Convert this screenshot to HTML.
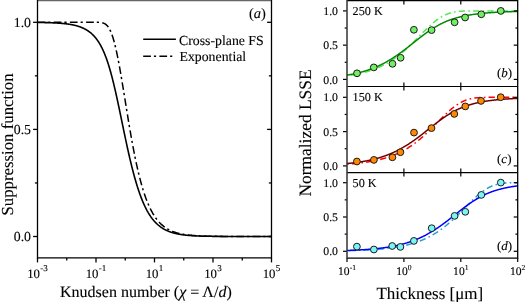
<!DOCTYPE html>
<html><head><meta charset="utf-8"><style>
html,body{margin:0;padding:0;background:#fff;width:525px;height:302px;overflow:hidden}
svg{display:block;will-change:transform}
text{font-family:"Liberation Serif",serif;fill:#000;stroke:#000;stroke-width:0.12px;text-rendering:geometricPrecision}
</style></head><body>
<svg width="525" height="302" viewBox="0 0 525 302">
<path d="M37.5,22.46 L37.79,22.46 L38.09,22.47 L38.38,22.47 L38.67,22.48 L38.96,22.48 L39.26,22.48 L39.55,22.49 L39.84,22.49 L40.14,22.5 L40.43,22.5 L40.72,22.51 L41.01,22.51 L41.31,22.52 L41.6,22.52 L41.89,22.53 L42.19,22.53 L42.48,22.54 L42.77,22.54 L43.06,22.55 L43.36,22.55 L43.65,22.56 L43.94,22.57 L44.24,22.57 L44.53,22.58 L44.82,22.59 L45.11,22.59 L45.41,22.6 L45.7,22.61 L45.99,22.61 L46.29,22.62 L46.58,22.63 L46.87,22.64 L47.16,22.64 L47.46,22.65 L47.75,22.66 L48.04,22.67 L48.34,22.68 L48.63,22.69 L48.92,22.69 L49.21,22.7 L49.51,22.71 L49.8,22.72 L50.09,22.73 L50.39,22.74 L50.68,22.75 L50.97,22.76 L51.26,22.77 L51.56,22.79 L51.85,22.8 L52.14,22.81 L52.44,22.82 L52.73,22.83 L53.02,22.85 L53.31,22.86 L53.61,22.87 L53.9,22.88 L54.19,22.9 L54.49,22.91 L54.78,22.93 L55.07,22.94 L55.36,22.96 L55.66,22.97 L55.95,22.99 L56.24,23 L56.54,23.02 L56.83,23.04 L57.12,23.05 L57.41,23.07 L57.71,23.09 L58,23.11 L58.29,23.13 L58.59,23.14 L58.88,23.16 L59.17,23.18 L59.46,23.21 L59.76,23.23 L60.05,23.25 L60.34,23.27 L60.64,23.29 L60.93,23.32 L61.22,23.34 L61.52,23.36 L61.81,23.39 L62.1,23.41 L62.39,23.44 L62.69,23.47 L62.98,23.49 L63.27,23.52 L63.57,23.55 L63.86,23.58 L64.15,23.61 L64.44,23.64 L64.74,23.67 L65.03,23.7 L65.32,23.74 L65.62,23.77 L65.91,23.8 L66.2,23.84 L66.49,23.87 L66.79,23.91 L67.08,23.95 L67.37,23.99 L67.67,24.03 L67.96,24.07 L68.25,24.11 L68.54,24.15 L68.84,24.19 L69.13,24.24 L69.42,24.28 L69.72,24.33 L70.01,24.38 L70.3,24.42 L70.59,24.47 L70.89,24.52 L71.18,24.58 L71.47,24.63 L71.77,24.68 L72.06,24.74 L72.35,24.8 L72.64,24.85 L72.94,24.91 L73.23,24.98 L73.52,25.04 L73.82,25.1 L74.11,25.17 L74.4,25.23 L74.69,25.3 L74.99,25.37 L75.28,25.44 L75.57,25.52 L75.87,25.59 L76.16,25.67 L76.45,25.75 L76.74,25.83 L77.04,25.91 L77.33,25.99 L77.62,26.08 L77.92,26.17 L78.21,26.26 L78.5,26.35 L78.79,26.45 L79.09,26.54 L79.38,26.64 L79.67,26.74 L79.97,26.85 L80.26,26.95 L80.55,27.06 L80.84,27.17 L81.14,27.29 L81.43,27.4 L81.72,27.52 L82.02,27.64 L82.31,27.77 L82.6,27.9 L82.89,28.03 L83.19,28.16 L83.48,28.3 L83.77,28.44 L84.07,28.58 L84.36,28.73 L84.65,28.87 L84.94,29.03 L85.24,29.19 L85.53,29.35 L85.82,29.51 L86.12,29.68 L86.41,29.85 L86.7,30.03 L86.99,30.21 L87.29,30.39 L87.58,30.58 L87.87,30.77 L88.17,30.97 L88.46,31.17 L88.75,31.38 L89.04,31.59 L89.34,31.81 L89.63,32.03 L89.92,32.26 L90.22,32.49 L90.51,32.73 L90.8,32.97 L91.09,33.22 L91.39,33.47 L91.68,33.73 L91.97,34 L92.27,34.27 L92.56,34.55 L92.85,34.84 L93.14,35.13 L93.44,35.43 L93.73,35.74 L94.02,36.05 L94.32,36.37 L94.61,36.7 L94.9,37.03 L95.19,37.38 L95.49,37.73 L95.78,38.09 L96.07,38.46 L96.37,38.83 L96.66,39.22 L96.95,39.61 L97.24,40.02 L97.54,40.43 L97.83,40.85 L98.12,41.29 L98.42,41.73 L98.71,42.18 L99,42.64 L99.29,43.12 L99.59,43.6 L99.88,44.1 L100.17,44.61 L100.47,45.13 L100.76,45.66 L101.05,46.2 L101.34,46.76 L101.64,47.32 L101.93,47.91 L102.22,48.5 L102.52,49.11 L102.81,49.73 L103.1,50.36 L103.39,51.01 L103.69,51.67 L103.98,52.35 L104.27,53.04 L104.57,53.75 L104.86,54.47 L105.15,55.21 L105.44,55.96 L105.74,56.73 L106.03,57.52 L106.32,58.32 L106.62,59.13 L106.91,59.97 L107.2,60.82 L107.49,61.68 L107.79,62.56 L108.08,63.46 L108.37,64.38 L108.67,65.31 L108.96,66.26 L109.25,67.22 L109.55,68.21 L109.84,69.21 L110.13,70.22 L110.42,71.25 L110.72,72.3 L111.01,73.36 L111.3,74.45 L111.6,75.54 L111.89,76.65 L112.18,77.78 L112.47,78.92 L112.77,80.08 L113.06,81.25 L113.35,82.44 L113.65,83.64 L113.94,84.86 L114.23,86.09 L114.52,87.33 L114.82,88.58 L115.11,89.85 L115.4,91.13 L115.7,92.42 L115.99,93.72 L116.28,95.04 L116.57,96.36 L116.87,97.69 L117.16,99.03 L117.45,100.38 L117.75,101.74 L118.04,103.11 L118.33,104.48 L118.62,105.86 L118.92,107.25 L119.21,108.64 L119.5,110.03 L119.8,111.44 L120.09,112.84 L120.38,114.25 L120.67,115.66 L120.97,117.07 L121.26,118.49 L121.55,119.91 L121.85,121.32 L122.14,122.74 L122.43,124.16 L122.72,125.57 L123.02,126.99 L123.31,128.4 L123.6,129.81 L123.9,131.22 L124.19,132.62 L124.48,134.02 L124.77,135.42 L125.07,136.81 L125.36,138.2 L125.65,139.57 L125.95,140.95 L126.24,142.32 L126.53,143.68 L126.82,145.03 L127.12,146.37 L127.41,147.71 L127.7,149.04 L128,150.36 L128.29,151.67 L128.58,152.97 L128.87,154.27 L129.17,155.55 L129.46,156.82 L129.75,158.08 L130.05,159.33 L130.34,160.57 L130.63,161.8 L130.92,163.02 L131.22,164.22 L131.51,165.41 L131.8,166.6 L132.1,167.77 L132.39,168.92 L132.68,170.07 L132.97,171.2 L133.27,172.32 L133.56,173.43 L133.85,174.52 L134.15,175.6 L134.44,176.67 L134.73,177.72 L135.02,178.77 L135.32,179.79 L135.61,180.81 L135.9,181.81 L136.2,182.8 L136.49,183.78 L136.78,184.74 L137.07,185.69 L137.37,186.63 L137.66,187.55 L137.95,188.46 L138.25,189.36 L138.54,190.24 L138.83,191.11 L139.12,191.97 L139.42,192.81 L139.71,193.64 L140,194.46 L140.3,195.27 L140.59,196.06 L140.88,196.84 L141.17,197.61 L141.47,198.37 L141.76,199.11 L142.05,199.85 L142.35,200.57 L142.64,201.27 L142.93,201.97 L143.22,202.65 L143.52,203.33 L143.81,203.99 L144.1,204.64 L144.4,205.28 L144.69,205.91 L144.98,206.52 L145.27,207.13 L145.57,207.72 L145.86,208.31 L146.15,208.88 L146.45,209.45 L146.74,210 L147.03,210.54 L147.32,211.08 L147.62,211.6 L147.91,212.11 L148.2,212.62 L148.5,213.11 L148.79,213.6 L149.08,214.07 L149.37,214.54 L149.67,215 L149.96,215.45 L150.25,215.89 L150.55,216.33 L150.84,216.75 L151.13,217.17 L151.42,217.57 L151.72,217.97 L152.01,218.37 L152.3,218.75 L152.6,219.13 L152.89,219.5 L153.18,219.86 L153.47,220.22 L153.77,220.56 L154.06,220.9 L154.35,221.24 L154.65,221.57 L154.94,221.89 L155.23,222.2 L155.53,222.51 L155.82,222.81 L156.11,223.11 L156.4,223.4 L156.7,223.68 L156.99,223.96 L157.28,224.23 L157.58,224.5 L157.87,224.76 L158.16,225.01 L158.45,225.26 L158.75,225.51 L159.04,225.75 L159.33,225.98 L159.63,226.21 L159.92,226.44 L160.21,226.66 L160.5,226.87 L160.8,227.09 L161.09,227.29 L161.38,227.49 L161.68,227.69 L161.97,227.89 L162.26,228.08 L162.55,228.26 L162.85,228.44 L163.14,228.62 L163.43,228.8 L163.73,228.97 L164.02,229.13 L164.31,229.3 L164.6,229.46 L164.9,229.61 L165.19,229.76 L165.48,229.91 L165.78,230.06 L166.07,230.2 L166.36,230.34 L166.65,230.48 L166.95,230.61 L167.24,230.74 L167.53,230.87 L167.83,231 L168.12,231.12 L168.41,231.24 L168.7,231.36 L169,231.47 L169.29,231.59 L169.58,231.7 L169.88,231.8 L170.17,231.91 L170.46,232.01 L170.75,232.11 L171.05,232.21 L171.34,232.31 L171.63,232.4 L171.93,232.49 L172.22,232.58 L172.51,232.67 L172.8,232.76 L173.1,232.84 L173.39,232.92 L173.68,233 L173.98,233.08 L174.27,233.16 L174.56,233.23 L174.85,233.31 L175.15,233.38 L175.44,233.45 L175.73,233.52 L176.03,233.58 L176.32,233.65 L176.61,233.71 L176.9,233.78 L177.2,233.84 L177.49,233.9 L177.78,233.96 L178.08,234.01 L178.37,234.07 L178.66,234.13 L178.95,234.18 L179.25,234.23 L179.54,234.28 L179.83,234.33 L180.13,234.38 L180.42,234.43 L180.71,234.48 L181,234.52 L181.3,234.57 L181.59,234.61 L181.88,234.65 L182.18,234.7 L182.47,234.74 L182.76,234.78 L183.05,234.81 L183.35,234.85 L183.64,234.89 L183.93,234.93 L184.23,234.96 L184.52,235 L184.81,235.03 L185.1,235.06 L185.4,235.1 L185.69,235.13 L185.98,235.16 L186.28,235.19 L186.57,235.22 L186.86,235.25 L187.15,235.28 L187.45,235.31 L187.74,235.33 L188.03,235.36 L188.33,235.38 L188.62,235.41 L188.91,235.43 L189.2,235.46 L189.5,235.48 L189.79,235.51 L190.08,235.53 L190.38,235.55 L190.67,235.57 L190.96,235.59 L191.25,235.61 L191.55,235.63 L191.84,235.65 L192.13,235.67 L192.43,235.69 L192.72,235.71 L193.01,235.73 L193.3,235.75 L193.6,235.76 L193.89,235.78 L194.18,235.8 L194.48,235.81 L194.77,235.83 L195.06,235.84 L195.35,235.86 L195.65,235.87 L195.94,235.89 L196.23,235.9 L196.53,235.91 L196.82,235.93 L197.11,235.94 L197.4,235.95 L197.7,235.97 L197.99,235.98 L198.28,235.99 L198.58,236 L198.87,236.01 L199.16,236.02 L199.45,236.03 L199.75,236.04 L200.04,236.06 L200.33,236.07 L200.63,236.08 L200.92,236.08 L201.21,236.09 L201.51,236.1 L201.8,236.11 L202.09,236.12 L202.38,236.13 L202.68,236.14 L202.97,236.15 L203.26,236.15 L203.56,236.16 L203.85,236.17 L204.14,236.18 L204.43,236.19 L204.73,236.19 L205.02,236.2 L205.31,236.21 L205.61,236.21 L205.9,236.22 L206.19,236.23 L206.48,236.23 L206.78,236.24 L207.07,236.24 L207.36,236.25 L207.66,236.26 L207.95,236.26 L208.24,236.27 L208.53,236.27 L208.83,236.28 L209.12,236.28 L209.41,236.29 L209.71,236.29 L210,236.3 L210.29,236.3 L210.58,236.31 L210.88,236.31 L211.17,236.31 L211.46,236.32 L211.76,236.32 L212.05,236.33 L212.34,236.33 L212.63,236.33 L212.93,236.34 L213.22,236.34 L213.51,236.35 L213.81,236.35 L214.1,236.35 L214.39,236.36 L214.68,236.36 L214.98,236.36 L215.27,236.37 L215.56,236.37 L215.86,236.37 L216.15,236.37 L216.44,236.38 L216.73,236.38 L217.03,236.38 L217.32,236.39 L217.61,236.39 L217.91,236.39 L218.2,236.39 L218.49,236.4 L218.78,236.4 L219.08,236.4 L219.37,236.4 L219.66,236.4 L219.96,236.41 L220.25,236.41 L220.54,236.41 L220.83,236.41 L221.13,236.42 L221.42,236.42 L221.71,236.42 L222.01,236.42 L222.3,236.42 L222.59,236.42 L222.88,236.43 L223.18,236.43 L223.47,236.43 L223.76,236.43 L224.06,236.43 L224.35,236.43 L224.64,236.44 L224.93,236.44 L225.23,236.44 L225.52,236.44 L225.81,236.44 L226.11,236.44 L226.4,236.44 L226.69,236.45 L226.98,236.45 L227.28,236.45 L227.57,236.45 L227.86,236.45 L228.16,236.45 L228.45,236.45 L228.74,236.45 L229.03,236.45 L229.33,236.46 L229.62,236.46 L229.91,236.46 L230.21,236.46 L230.5,236.46 L230.79,236.46 L231.08,236.46 L231.38,236.46 L231.67,236.46 L231.96,236.46 L232.26,236.46 L232.55,236.47 L232.84,236.47 L233.13,236.47 L233.43,236.47 L233.72,236.47 L234.01,236.47 L234.31,236.47 L234.6,236.47 L234.89,236.47 L235.18,236.47 L235.48,236.47 L235.77,236.47 L236.06,236.47 L236.36,236.47 L236.65,236.48 L236.94,236.48 L237.23,236.48 L237.53,236.48 L237.82,236.48 L238.11,236.48 L238.41,236.48 L238.7,236.48 L238.99,236.48 L239.28,236.48 L239.58,236.48 L239.87,236.48 L240.16,236.48 L240.46,236.48 L240.75,236.48 L241.04,236.48 L241.33,236.48 L241.63,236.48 L241.92,236.48 L242.21,236.48 L242.51,236.48 L242.8,236.48 L243.09,236.48 L243.38,236.49 L243.68,236.49 L243.97,236.49 L244.26,236.49 L244.56,236.49 L244.85,236.49 L245.14,236.49 L245.43,236.49 L245.73,236.49 L246.02,236.49 L246.31,236.49 L246.61,236.49 L246.9,236.49 L247.19,236.49 L247.48,236.49 L247.78,236.49 L248.07,236.49 L248.36,236.49 L248.66,236.49 L248.95,236.49 L249.24,236.49 L249.54,236.49 L249.83,236.49 L250.12,236.49 L250.41,236.49 L250.71,236.49 L251,236.49 L251.29,236.49 L251.59,236.49 L251.88,236.49 L252.17,236.49 L252.46,236.49 L252.76,236.49 L253.05,236.49 L253.34,236.49 L253.64,236.49 L253.93,236.49 L254.22,236.49 L254.51,236.49 L254.81,236.49 L255.1,236.49 L255.39,236.49 L255.69,236.49 L255.98,236.49 L256.27,236.49 L256.56,236.49 L256.86,236.49 L257.15,236.5 L257.44,236.5 L257.74,236.5 L258.03,236.5 L258.32,236.5 L258.61,236.5 L258.91,236.5 L259.2,236.5 L259.49,236.5 L259.79,236.5 L260.08,236.5 L260.37,236.5 L260.66,236.5 L260.96,236.5 L261.25,236.5 L261.54,236.5 L261.84,236.5 L262.13,236.5 L262.42,236.5 L262.71,236.5 L263.01,236.5 L263.3,236.5 L263.59,236.5 L263.89,236.5 L264.18,236.5 L264.47,236.5 L264.76,236.5 L265.06,236.5 L265.35,236.5 L265.64,236.5 L265.94,236.5 L266.23,236.5 L266.52,236.5 L266.81,236.5 L267.11,236.5 L267.4,236.5 L267.69,236.5 L267.99,236.5 L268.28,236.5 L268.57,236.5 L268.86,236.5 L269.16,236.5 L269.45,236.5 L269.74,236.5 L270.04,236.5 L270.33,236.5 L270.62,236.5 L270.91,236.5 L271.21,236.5 L271.5,236.5" fill="none" stroke="#000" stroke-width="1.6"/>
<path d="M37.5,22.3 L37.79,22.3 L38.09,22.3 L38.38,22.3 L38.67,22.3 L38.96,22.3 L39.26,22.3 L39.55,22.3 L39.84,22.3 L40.14,22.3 L40.43,22.3 L40.72,22.3 L41.01,22.3 L41.31,22.3 L41.6,22.3 L41.89,22.3 L42.19,22.3 L42.48,22.3 L42.77,22.3 L43.06,22.3 L43.36,22.3 L43.65,22.3 L43.94,22.3 L44.24,22.3 L44.53,22.3 L44.82,22.3 L45.11,22.3 L45.41,22.3 L45.7,22.3 L45.99,22.3 L46.29,22.3 L46.58,22.3 L46.87,22.3 L47.16,22.3 L47.46,22.3 L47.75,22.3 L48.04,22.3 L48.34,22.3 L48.63,22.3 L48.92,22.3 L49.21,22.3 L49.51,22.3 L49.8,22.3 L50.09,22.3 L50.39,22.3 L50.68,22.3 L50.97,22.3 L51.26,22.3 L51.56,22.3 L51.85,22.3 L52.14,22.3 L52.44,22.3 L52.73,22.3 L53.02,22.3 L53.31,22.3 L53.61,22.3 L53.9,22.3 L54.19,22.3 L54.49,22.3 L54.78,22.3 L55.07,22.3 L55.36,22.3 L55.66,22.3 L55.95,22.3 L56.24,22.3 L56.54,22.3 L56.83,22.3 L57.12,22.3 L57.41,22.3 L57.71,22.3 L58,22.3 L58.29,22.3 L58.59,22.3 L58.88,22.3 L59.17,22.3 L59.46,22.3 L59.76,22.3 L60.05,22.3 L60.34,22.3 L60.64,22.3 L60.93,22.3 L61.22,22.3 L61.52,22.3 L61.81,22.3 L62.1,22.3 L62.39,22.3 L62.69,22.3 L62.98,22.3 L63.27,22.3 L63.57,22.3 L63.86,22.3 L64.15,22.3 L64.44,22.3 L64.74,22.3 L65.03,22.3 L65.32,22.3 L65.62,22.3 L65.91,22.3 L66.2,22.3 L66.49,22.3 L66.79,22.3 L67.08,22.3 L67.37,22.3 L67.67,22.3 L67.96,22.3 L68.25,22.3 L68.54,22.3 L68.84,22.3 L69.13,22.3 L69.42,22.3 L69.72,22.3 L70.01,22.3 L70.3,22.3 L70.59,22.3 L70.89,22.3 L71.18,22.3 L71.47,22.3 L71.77,22.3 L72.06,22.3 L72.35,22.3 L72.64,22.3 L72.94,22.3 L73.23,22.3 L73.52,22.3 L73.82,22.3 L74.11,22.3 L74.4,22.3 L74.69,22.3 L74.99,22.3 L75.28,22.3 L75.57,22.3 L75.87,22.3 L76.16,22.3 L76.45,22.3 L76.74,22.3 L77.04,22.3 L77.33,22.3 L77.62,22.3 L77.92,22.3 L78.21,22.3 L78.5,22.3 L78.79,22.3 L79.09,22.3 L79.38,22.3 L79.67,22.3 L79.97,22.3 L80.26,22.3 L80.55,22.3 L80.84,22.3 L81.14,22.3 L81.43,22.3 L81.72,22.3 L82.02,22.3 L82.31,22.3 L82.6,22.3 L82.89,22.3 L83.19,22.3 L83.48,22.3 L83.77,22.3 L84.07,22.3 L84.36,22.3 L84.65,22.3 L84.94,22.3 L85.24,22.3 L85.53,22.3 L85.82,22.3 L86.12,22.3 L86.41,22.3 L86.7,22.3 L86.99,22.3 L87.29,22.3 L87.58,22.3 L87.87,22.3 L88.17,22.3 L88.46,22.3 L88.75,22.3 L89.04,22.3 L89.34,22.3 L89.63,22.3 L89.92,22.3 L90.22,22.3 L90.51,22.3 L90.8,22.3 L91.09,22.3 L91.39,22.3 L91.68,22.3 L91.97,22.3 L92.27,22.3 L92.56,22.3 L92.85,22.3 L93.14,22.3 L93.44,22.3 L93.73,22.3 L94.02,22.3 L94.32,22.3 L94.61,22.3 L94.9,22.3 L95.19,22.31 L95.49,22.31 L95.78,22.31 L96.07,22.31 L96.37,22.31 L96.66,22.32 L96.95,22.32 L97.24,22.32 L97.54,22.33 L97.83,22.34 L98.12,22.35 L98.42,22.35 L98.71,22.37 L99,22.38 L99.29,22.4 L99.59,22.41 L99.88,22.44 L100.17,22.46 L100.47,22.49 L100.76,22.52 L101.05,22.56 L101.34,22.6 L101.64,22.65 L101.93,22.71 L102.22,22.77 L102.52,22.84 L102.81,22.92 L103.1,23 L103.39,23.1 L103.69,23.21 L103.98,23.33 L104.27,23.47 L104.57,23.61 L104.86,23.77 L105.15,23.95 L105.44,24.15 L105.74,24.36 L106.03,24.59 L106.32,24.84 L106.62,25.1 L106.91,25.4 L107.2,25.71 L107.49,26.05 L107.79,26.41 L108.08,26.8 L108.37,27.21 L108.67,27.65 L108.96,28.12 L109.25,28.62 L109.55,29.15 L109.84,29.71 L110.13,30.3 L110.42,30.92 L110.72,31.58 L111.01,32.26 L111.3,32.98 L111.6,33.74 L111.89,34.53 L112.18,35.35 L112.47,36.21 L112.77,37.11 L113.06,38.04 L113.35,39 L113.65,40 L113.94,41.04 L114.23,42.11 L114.52,43.21 L114.82,44.35 L115.11,45.52 L115.4,46.73 L115.7,47.97 L115.99,49.24 L116.28,50.55 L116.57,51.88 L116.87,53.25 L117.16,54.64 L117.45,56.06 L117.75,57.52 L118.04,59 L118.33,60.5 L118.62,62.03 L118.92,63.59 L119.21,65.17 L119.5,66.77 L119.8,68.39 L120.09,70.03 L120.38,71.69 L120.67,73.37 L120.97,75.07 L121.26,76.78 L121.55,78.51 L121.85,80.25 L122.14,82 L122.43,83.76 L122.72,85.54 L123.02,87.32 L123.31,89.11 L123.6,90.91 L123.9,92.71 L124.19,94.52 L124.48,96.33 L124.77,98.15 L125.07,99.96 L125.36,101.78 L125.65,103.6 L125.95,105.41 L126.24,107.23 L126.53,109.03 L126.82,110.84 L127.12,112.64 L127.41,114.44 L127.7,116.22 L128,118.01 L128.29,119.78 L128.58,121.54 L128.87,123.3 L129.17,125.05 L129.46,126.78 L129.75,128.5 L130.05,130.22 L130.34,131.92 L130.63,133.6 L130.92,135.27 L131.22,136.93 L131.51,138.58 L131.8,140.21 L132.1,141.82 L132.39,143.42 L132.68,145.01 L132.97,146.58 L133.27,148.13 L133.56,149.66 L133.85,151.18 L134.15,152.68 L134.44,154.17 L134.73,155.63 L135.02,157.08 L135.32,158.51 L135.61,159.92 L135.9,161.32 L136.2,162.69 L136.49,164.05 L136.78,165.39 L137.07,166.71 L137.37,168.02 L137.66,169.3 L137.95,170.57 L138.25,171.82 L138.54,173.05 L138.83,174.26 L139.12,175.45 L139.42,176.63 L139.71,177.79 L140,178.93 L140.3,180.05 L140.59,181.15 L140.88,182.24 L141.17,183.3 L141.47,184.36 L141.76,185.39 L142.05,186.41 L142.35,187.41 L142.64,188.39 L142.93,189.35 L143.22,190.3 L143.52,191.24 L143.81,192.15 L144.1,193.05 L144.4,193.94 L144.69,194.81 L144.98,195.66 L145.27,196.5 L145.57,197.32 L145.86,198.13 L146.15,198.92 L146.45,199.7 L146.74,200.46 L147.03,201.21 L147.32,201.95 L147.62,202.67 L147.91,203.38 L148.2,204.07 L148.5,204.75 L148.79,205.42 L149.08,206.08 L149.37,206.72 L149.67,207.35 L149.96,207.97 L150.25,208.57 L150.55,209.17 L150.84,209.75 L151.13,210.32 L151.42,210.88 L151.72,211.43 L152.01,211.97 L152.3,212.49 L152.6,213.01 L152.89,213.51 L153.18,214.01 L153.47,214.49 L153.77,214.97 L154.06,215.44 L154.35,215.89 L154.65,216.34 L154.94,216.78 L155.23,217.2 L155.53,217.62 L155.82,218.04 L156.11,218.44 L156.4,218.83 L156.7,219.22 L156.99,219.6 L157.28,219.97 L157.58,220.33 L157.87,220.68 L158.16,221.03 L158.45,221.37 L158.75,221.7 L159.04,222.03 L159.33,222.35 L159.63,222.66 L159.92,222.96 L160.21,223.26 L160.5,223.56 L160.8,223.84 L161.09,224.12 L161.38,224.4 L161.68,224.66 L161.97,224.93 L162.26,225.18 L162.55,225.43 L162.85,225.68 L163.14,225.92 L163.43,226.15 L163.73,226.39 L164.02,226.61 L164.31,226.83 L164.6,227.05 L164.9,227.26 L165.19,227.46 L165.48,227.66 L165.78,227.86 L166.07,228.05 L166.36,228.24 L166.65,228.43 L166.95,228.61 L167.24,228.79 L167.53,228.96 L167.83,229.13 L168.12,229.29 L168.41,229.45 L168.7,229.61 L169,229.77 L169.29,229.92 L169.58,230.06 L169.88,230.21 L170.17,230.35 L170.46,230.49 L170.75,230.62 L171.05,230.76 L171.34,230.89 L171.63,231.01 L171.93,231.13 L172.22,231.26 L172.51,231.37 L172.8,231.49 L173.1,231.6 L173.39,231.71 L173.68,231.82 L173.98,231.93 L174.27,232.03 L174.56,232.13 L174.85,232.23 L175.15,232.32 L175.44,232.42 L175.73,232.51 L176.03,232.6 L176.32,232.69 L176.61,232.78 L176.9,232.86 L177.2,232.94 L177.49,233.02 L177.78,233.1 L178.08,233.18 L178.37,233.25 L178.66,233.33 L178.95,233.4 L179.25,233.47 L179.54,233.54 L179.83,233.6 L180.13,233.67 L180.42,233.73 L180.71,233.8 L181,233.86 L181.3,233.92 L181.59,233.98 L181.88,234.03 L182.18,234.09 L182.47,234.14 L182.76,234.2 L183.05,234.25 L183.35,234.3 L183.64,234.35 L183.93,234.4 L184.23,234.45 L184.52,234.49 L184.81,234.54 L185.1,234.58 L185.4,234.63 L185.69,234.67 L185.98,234.71 L186.28,234.75 L186.57,234.79 L186.86,234.83 L187.15,234.87 L187.45,234.9 L187.74,234.94 L188.03,234.98 L188.33,235.01 L188.62,235.04 L188.91,235.08 L189.2,235.11 L189.5,235.14 L189.79,235.17 L190.08,235.2 L190.38,235.23 L190.67,235.26 L190.96,235.29 L191.25,235.32 L191.55,235.34 L191.84,235.37 L192.13,235.4 L192.43,235.42 L192.72,235.45 L193.01,235.47 L193.3,235.49 L193.6,235.52 L193.89,235.54 L194.18,235.56 L194.48,235.58 L194.77,235.6 L195.06,235.62 L195.35,235.64 L195.65,235.66 L195.94,235.68 L196.23,235.7 L196.53,235.72 L196.82,235.74 L197.11,235.75 L197.4,235.77 L197.7,235.79 L197.99,235.8 L198.28,235.82 L198.58,235.83 L198.87,235.85 L199.16,235.86 L199.45,235.88 L199.75,235.89 L200.04,235.91 L200.33,235.92 L200.63,235.93 L200.92,235.95 L201.21,235.96 L201.51,235.97 L201.8,235.98 L202.09,236 L202.38,236.01 L202.68,236.02 L202.97,236.03 L203.26,236.04 L203.56,236.05 L203.85,236.06 L204.14,236.07 L204.43,236.08 L204.73,236.09 L205.02,236.1 L205.31,236.11 L205.61,236.12 L205.9,236.13 L206.19,236.13 L206.48,236.14 L206.78,236.15 L207.07,236.16 L207.36,236.17 L207.66,236.17 L207.95,236.18 L208.24,236.19 L208.53,236.2 L208.83,236.2 L209.12,236.21 L209.41,236.22 L209.71,236.22 L210,236.23 L210.29,236.24 L210.58,236.24 L210.88,236.25 L211.17,236.25 L211.46,236.26 L211.76,236.26 L212.05,236.27 L212.34,236.27 L212.63,236.28 L212.93,236.28 L213.22,236.29 L213.51,236.29 L213.81,236.3 L214.1,236.3 L214.39,236.31 L214.68,236.31 L214.98,236.32 L215.27,236.32 L215.56,236.33 L215.86,236.33 L216.15,236.33 L216.44,236.34 L216.73,236.34 L217.03,236.34 L217.32,236.35 L217.61,236.35 L217.91,236.35 L218.2,236.36 L218.49,236.36 L218.78,236.36 L219.08,236.37 L219.37,236.37 L219.66,236.37 L219.96,236.38 L220.25,236.38 L220.54,236.38 L220.83,236.38 L221.13,236.39 L221.42,236.39 L221.71,236.39 L222.01,236.39 L222.3,236.4 L222.59,236.4 L222.88,236.4 L223.18,236.4 L223.47,236.41 L223.76,236.41 L224.06,236.41 L224.35,236.41 L224.64,236.41 L224.93,236.42 L225.23,236.42 L225.52,236.42 L225.81,236.42 L226.11,236.42 L226.4,236.43 L226.69,236.43 L226.98,236.43 L227.28,236.43 L227.57,236.43 L227.86,236.43 L228.16,236.44 L228.45,236.44 L228.74,236.44 L229.03,236.44 L229.33,236.44 L229.62,236.44 L229.91,236.44 L230.21,236.44 L230.5,236.45 L230.79,236.45 L231.08,236.45 L231.38,236.45 L231.67,236.45 L231.96,236.45 L232.26,236.45 L232.55,236.45 L232.84,236.46 L233.13,236.46 L233.43,236.46 L233.72,236.46 L234.01,236.46 L234.31,236.46 L234.6,236.46 L234.89,236.46 L235.18,236.46 L235.48,236.46 L235.77,236.46 L236.06,236.47 L236.36,236.47 L236.65,236.47 L236.94,236.47 L237.23,236.47 L237.53,236.47 L237.82,236.47 L238.11,236.47 L238.41,236.47 L238.7,236.47 L238.99,236.47 L239.28,236.47 L239.58,236.47 L239.87,236.47 L240.16,236.47 L240.46,236.48 L240.75,236.48 L241.04,236.48 L241.33,236.48 L241.63,236.48 L241.92,236.48 L242.21,236.48 L242.51,236.48 L242.8,236.48 L243.09,236.48 L243.38,236.48 L243.68,236.48 L243.97,236.48 L244.26,236.48 L244.56,236.48 L244.85,236.48 L245.14,236.48 L245.43,236.48 L245.73,236.48 L246.02,236.48 L246.31,236.48 L246.61,236.48 L246.9,236.49 L247.19,236.49 L247.48,236.49 L247.78,236.49 L248.07,236.49 L248.36,236.49 L248.66,236.49 L248.95,236.49 L249.24,236.49 L249.54,236.49 L249.83,236.49 L250.12,236.49 L250.41,236.49 L250.71,236.49 L251,236.49 L251.29,236.49 L251.59,236.49 L251.88,236.49 L252.17,236.49 L252.46,236.49 L252.76,236.49 L253.05,236.49 L253.34,236.49 L253.64,236.49 L253.93,236.49 L254.22,236.49 L254.51,236.49 L254.81,236.49 L255.1,236.49 L255.39,236.49 L255.69,236.49 L255.98,236.49 L256.27,236.49 L256.56,236.49 L256.86,236.49 L257.15,236.49 L257.44,236.49 L257.74,236.49 L258.03,236.49 L258.32,236.49 L258.61,236.49 L258.91,236.49 L259.2,236.49 L259.49,236.49 L259.79,236.49 L260.08,236.49 L260.37,236.49 L260.66,236.49 L260.96,236.5 L261.25,236.5 L261.54,236.5 L261.84,236.5 L262.13,236.5 L262.42,236.5 L262.71,236.5 L263.01,236.5 L263.3,236.5 L263.59,236.5 L263.89,236.5 L264.18,236.5 L264.47,236.5 L264.76,236.5 L265.06,236.5 L265.35,236.5 L265.64,236.5 L265.94,236.5 L266.23,236.5 L266.52,236.5 L266.81,236.5 L267.11,236.5 L267.4,236.5 L267.69,236.5 L267.99,236.5 L268.28,236.5 L268.57,236.5 L268.86,236.5 L269.16,236.5 L269.45,236.5 L269.74,236.5 L270.04,236.5 L270.33,236.5 L270.62,236.5 L270.91,236.5 L271.21,236.5 L271.5,236.5" fill="none" stroke="#000" stroke-width="1.5" stroke-dasharray="7.7,3,2.2,3.3"/>
<line x1="37.5" y1="0.5" x2="271.5" y2="0.5" stroke="#666" stroke-width="1.6"/>
<line x1="37.5" y1="0" x2="37.5" y2="258.6" stroke="#000" stroke-width="1.3"/>
<line x1="271.5" y1="0" x2="271.5" y2="258.6" stroke="#000" stroke-width="1.3"/>
<line x1="37.5" y1="257.9" x2="271.5" y2="257.9" stroke="#000" stroke-width="1.4"/>
<line x1="37.5" y1="258.0" x2="37.5" y2="262.4" stroke="#000" stroke-width="1.3"/>
<line x1="66.75" y1="258.0" x2="66.75" y2="260.6" stroke="#000" stroke-width="1.3"/>
<line x1="96" y1="258.0" x2="96" y2="262.4" stroke="#000" stroke-width="1.3"/>
<line x1="125.25" y1="258.0" x2="125.25" y2="260.6" stroke="#000" stroke-width="1.3"/>
<line x1="154.5" y1="258.0" x2="154.5" y2="262.4" stroke="#000" stroke-width="1.3"/>
<line x1="183.75" y1="258.0" x2="183.75" y2="260.6" stroke="#000" stroke-width="1.3"/>
<line x1="213" y1="258.0" x2="213" y2="262.4" stroke="#000" stroke-width="1.3"/>
<line x1="242.25" y1="258.0" x2="242.25" y2="260.6" stroke="#000" stroke-width="1.3"/>
<line x1="271.5" y1="258.0" x2="271.5" y2="262.4" stroke="#000" stroke-width="1.3"/>
<line x1="33.1" y1="236.5" x2="37.5" y2="236.5" stroke="#000" stroke-width="1.3"/>
<line x1="267.1" y1="236.5" x2="271.5" y2="236.5" stroke="#000" stroke-width="1.3"/>
<line x1="34.9" y1="182.95" x2="37.5" y2="182.95" stroke="#000" stroke-width="1.3"/>
<line x1="268.9" y1="182.95" x2="271.5" y2="182.95" stroke="#000" stroke-width="1.3"/>
<line x1="33.1" y1="129.4" x2="37.5" y2="129.4" stroke="#000" stroke-width="1.3"/>
<line x1="267.1" y1="129.4" x2="271.5" y2="129.4" stroke="#000" stroke-width="1.3"/>
<line x1="34.9" y1="75.85" x2="37.5" y2="75.85" stroke="#000" stroke-width="1.3"/>
<line x1="268.9" y1="75.85" x2="271.5" y2="75.85" stroke="#000" stroke-width="1.3"/>
<line x1="33.1" y1="22.3" x2="37.5" y2="22.3" stroke="#000" stroke-width="1.3"/>
<line x1="267.1" y1="22.3" x2="271.5" y2="22.3" stroke="#000" stroke-width="1.3"/>
<text x="31" y="241.1" font-family="Liberation Serif" font-size="13.8" text-anchor="end">0.0</text>
<text x="31" y="134" font-family="Liberation Serif" font-size="13.8" text-anchor="end">0.5</text>
<text x="31" y="26.9" font-family="Liberation Serif" font-size="13.8" text-anchor="end">1.0</text>
<text x="37.5" y="277.6" font-family="Liberation Serif" font-size="12.8" text-anchor="middle">10<tspan font-size="9" dx="0.4" dy="-6.8">-3</tspan></text>
<text x="96" y="277.6" font-family="Liberation Serif" font-size="12.8" text-anchor="middle">10<tspan font-size="9" dx="0.4" dy="-6.8">-1</tspan></text>
<text x="154.5" y="277.6" font-family="Liberation Serif" font-size="12.8" text-anchor="middle">10<tspan font-size="9" dx="0.4" dy="-6.8">1</tspan></text>
<text x="213" y="277.6" font-family="Liberation Serif" font-size="12.8" text-anchor="middle">10<tspan font-size="9" dx="0.4" dy="-6.8">3</tspan></text>
<text x="271.5" y="277.6" font-family="Liberation Serif" font-size="12.8" text-anchor="middle">10<tspan font-size="9" dx="0.4" dy="-6.8">5</tspan></text>
<text x="145.9" y="297.2" font-family="Liberation Serif" font-size="16" text-anchor="middle">Knudsen number (<tspan font-style="italic">χ</tspan> = Λ/<tspan font-style="italic">d</tspan>)</text>
<text transform="translate(13.1,144.5) rotate(-90)" font-family="Liberation Serif" font-size="16.8" text-anchor="middle">Suppression function</text>
<line x1="143.2" y1="39.2" x2="175.9" y2="39.2" stroke="#000" stroke-width="1.6"/>
<line x1="143.2" y1="56.3" x2="173" y2="56.3" stroke="#000" stroke-width="1.5" stroke-dasharray="7.7,3,2.2,3.3"/>
<text x="179" y="44.6" font-family="Liberation Serif" font-size="13.8">Cross-plane FS</text>
<text x="179.5" y="60.8" font-family="Liberation Serif" font-size="13.8">Exponential</text>
<text x="249" y="18" font-family="Liberation Serif" font-size="14.5">(<tspan font-style="italic">a</tspan>)</text>
<path d="M347,75.84 L347.43,75.78 L347.86,75.72 L348.28,75.66 L348.71,75.59 L349.14,75.53 L349.57,75.46 L349.99,75.4 L350.42,75.33 L350.85,75.26 L351.28,75.19 L351.71,75.12 L352.13,75.05 L352.56,74.97 L352.99,74.9 L353.42,74.82 L353.85,74.75 L354.27,74.67 L354.7,74.59 L355.13,74.51 L355.56,74.42 L355.98,74.34 L356.41,74.26 L356.84,74.17 L357.27,74.08 L357.7,73.99 L358.12,73.9 L358.55,73.81 L358.98,73.72 L359.41,73.62 L359.83,73.53 L360.26,73.43 L360.69,73.33 L361.12,73.23 L361.55,73.12 L361.97,73.02 L362.4,72.91 L362.83,72.81 L363.26,72.7 L363.68,72.59 L364.11,72.47 L364.54,72.36 L364.97,72.24 L365.4,72.12 L365.82,72 L366.25,71.88 L366.68,71.76 L367.11,71.63 L367.54,71.51 L367.96,71.38 L368.39,71.25 L368.82,71.11 L369.25,70.98 L369.67,70.84 L370.1,70.7 L370.53,70.56 L370.96,70.41 L371.39,70.27 L371.81,70.12 L372.24,69.97 L372.67,69.82 L373.1,69.66 L373.52,69.5 L373.95,69.35 L374.38,69.18 L374.81,69.02 L375.24,68.85 L375.66,68.68 L376.09,68.51 L376.52,68.34 L376.95,68.16 L377.38,67.98 L377.8,67.8 L378.23,67.62 L378.66,67.43 L379.09,67.24 L379.51,67.05 L379.94,66.86 L380.37,66.66 L380.8,66.46 L381.23,66.26 L381.65,66.05 L382.08,65.84 L382.51,65.63 L382.94,65.42 L383.36,65.2 L383.79,64.98 L384.22,64.76 L384.65,64.53 L385.08,64.3 L385.5,64.07 L385.93,63.84 L386.36,63.6 L386.79,63.36 L387.22,63.11 L387.64,62.87 L388.07,62.62 L388.5,62.36 L388.93,62.11 L389.35,61.85 L389.78,61.58 L390.21,61.32 L390.64,61.05 L391.07,60.78 L391.49,60.5 L391.92,60.22 L392.35,59.94 L392.78,59.66 L393.2,59.37 L393.63,59.07 L394.06,58.78 L394.49,58.48 L394.92,58.18 L395.34,57.87 L395.77,57.57 L396.2,57.25 L396.63,56.94 L397.05,56.62 L397.48,56.3 L397.91,55.97 L398.34,55.65 L398.77,55.31 L399.19,54.98 L399.62,54.64 L400.05,54.3 L400.48,53.96 L400.91,53.61 L401.33,53.26 L401.76,52.9 L402.19,52.55 L402.62,52.18 L403.04,51.82 L403.47,51.45 L403.9,51.09 L404.33,50.71 L404.76,50.34 L405.18,49.96 L405.61,49.58 L406.04,49.19 L406.47,48.81 L406.89,48.42 L407.32,48.02 L407.75,47.63 L408.18,47.23 L408.61,46.83 L409.03,46.43 L409.46,46.02 L409.89,45.62 L410.32,45.21 L410.75,44.8 L411.17,44.38 L411.6,43.97 L412.03,43.55 L412.46,43.13 L412.88,42.71 L413.31,42.28 L413.74,41.86 L414.17,41.43 L414.6,41 L415.02,40.57 L415.45,40.14 L415.88,39.71 L416.31,39.28 L416.73,38.85 L417.16,38.41 L417.59,37.98 L418.02,37.54 L418.45,37.11 L418.87,36.67 L419.3,36.23 L419.73,35.8 L420.16,35.36 L420.58,34.93 L421.01,34.49 L421.44,34.06 L421.87,33.62 L422.3,33.19 L422.72,32.75 L423.15,32.32 L423.58,31.89 L424.01,31.46 L424.44,31.04 L424.86,30.61 L425.29,30.19 L425.72,29.76 L426.15,29.34 L426.57,28.93 L427,28.51 L427.43,28.1 L427.86,27.69 L428.29,27.28 L428.71,26.88 L429.14,26.47 L429.57,26.08 L430,25.68 L430.42,25.29 L430.85,24.91 L431.28,24.52 L431.71,24.14 L432.14,23.77 L432.56,23.4 L432.99,23.03 L433.42,22.67 L433.85,22.32 L434.28,21.96 L434.7,21.62 L435.13,21.28 L435.56,20.94 L435.99,20.61 L436.41,20.28 L436.84,19.96 L437.27,19.65 L437.7,19.34 L438.13,19.04 L438.55,18.74 L438.98,18.45 L439.41,18.16 L439.84,17.88 L440.26,17.61 L440.69,17.34 L441.12,17.08 L441.55,16.83 L441.98,16.58 L442.4,16.34 L442.83,16.1 L443.26,15.87 L443.69,15.65 L444.12,15.44 L444.54,15.23 L444.97,15.02 L445.4,14.82 L445.83,14.63 L446.25,14.45 L446.68,14.27 L447.11,14.1 L447.54,13.93 L447.97,13.77 L448.39,13.61 L448.82,13.47 L449.25,13.32 L449.68,13.19 L450.1,13.05 L450.53,12.93 L450.96,12.81 L451.39,12.69 L451.82,12.58 L452.24,12.48 L452.67,12.37 L453.1,12.28 L453.53,12.19 L453.95,12.1 L454.38,12.02 L454.81,11.94 L455.24,11.87 L455.67,11.8 L456.09,11.73 L456.52,11.67 L456.95,11.61 L457.38,11.56 L457.81,11.51 L458.23,11.46 L458.66,11.41 L459.09,11.37 L459.52,11.33 L459.94,11.3 L460.37,11.26 L460.8,11.23 L461.23,11.2 L461.66,11.17 L462.08,11.15 L462.51,11.13 L462.94,11.1 L463.37,11.08 L463.79,11.07 L464.22,11.05 L464.65,11.03 L465.08,11.02 L465.51,11.01 L465.93,11 L466.36,10.99 L466.79,10.98 L467.22,10.97 L467.65,10.96 L468.07,10.95 L468.5,10.95 L468.93,10.94 L469.36,10.94 L469.78,10.93 L470.21,10.93 L470.64,10.92 L471.07,10.92 L471.5,10.92 L471.92,10.92 L472.35,10.91 L472.78,10.91 L473.21,10.91 L473.63,10.91 L474.06,10.91 L474.49,10.91 L474.92,10.91 L475.35,10.9 L475.77,10.9 L476.2,10.9 L476.63,10.9 L477.06,10.9 L477.48,10.9 L477.91,10.9 L478.34,10.9 L478.77,10.9 L479.2,10.9 L479.62,10.9 L480.05,10.9 L480.48,10.9 L480.91,10.9 L481.34,10.9 L481.76,10.9 L482.19,10.9 L482.62,10.9 L483.05,10.9 L483.47,10.9 L483.9,10.9 L484.33,10.9 L484.76,10.9 L485.19,10.9 L485.61,10.9 L486.04,10.9 L486.47,10.9 L486.9,10.9 L487.32,10.9 L487.75,10.9 L488.18,10.9 L488.61,10.9 L489.04,10.9 L489.46,10.9 L489.89,10.9 L490.32,10.9 L490.75,10.9 L491.18,10.9 L491.6,10.9 L492.03,10.9 L492.46,10.9 L492.89,10.9 L493.31,10.9 L493.74,10.9 L494.17,10.9 L494.6,10.9 L495.03,10.9 L495.45,10.9 L495.88,10.9 L496.31,10.9 L496.74,10.9 L497.16,10.9 L497.59,10.9 L498.02,10.9 L498.45,10.9 L498.88,10.9 L499.3,10.9 L499.73,10.9 L500.16,10.9 L500.59,10.9 L501.02,10.9 L501.44,10.9 L501.87,10.9 L502.3,10.9 L502.73,10.9 L503.15,10.9 L503.58,10.9 L504.01,10.9 L504.44,10.9 L504.87,10.9 L505.29,10.9 L505.72,10.9 L506.15,10.9 L506.58,10.9 L507,10.9 L507.43,10.9 L507.86,10.9 L508.29,10.9 L508.72,10.9 L509.14,10.9 L509.57,10.9 L510,10.9 L510.43,10.9 L510.85,10.9 L511.28,10.9 L511.71,10.9 L512.14,10.9 L512.57,10.9 L512.99,10.9 L513.42,10.9 L513.85,10.9 L514.28,10.9 L514.71,10.9 L515.13,10.9 L515.56,10.9 L515.99,10.9 L516.42,10.9 L516.84,10.9 L517.27,10.9 L517.7,10.9" fill="none" stroke="#55e655" stroke-width="1.5" stroke-dasharray="6.3,3.2,1.6,3.2" stroke-dashoffset="10.69"/>
<path d="M347,75.13 L347.43,75.06 L347.86,74.99 L348.28,74.92 L348.71,74.84 L349.14,74.77 L349.57,74.69 L349.99,74.61 L350.42,74.53 L350.85,74.45 L351.28,74.37 L351.71,74.29 L352.13,74.21 L352.56,74.12 L352.99,74.04 L353.42,73.95 L353.85,73.86 L354.27,73.77 L354.7,73.68 L355.13,73.59 L355.56,73.49 L355.98,73.4 L356.41,73.3 L356.84,73.2 L357.27,73.1 L357.7,73 L358.12,72.9 L358.55,72.79 L358.98,72.69 L359.41,72.58 L359.83,72.47 L360.26,72.36 L360.69,72.25 L361.12,72.13 L361.55,72.02 L361.97,71.9 L362.4,71.78 L362.83,71.66 L363.26,71.54 L363.68,71.41 L364.11,71.29 L364.54,71.16 L364.97,71.03 L365.4,70.9 L365.82,70.77 L366.25,70.63 L366.68,70.5 L367.11,70.36 L367.54,70.22 L367.96,70.07 L368.39,69.93 L368.82,69.78 L369.25,69.64 L369.67,69.48 L370.1,69.33 L370.53,69.18 L370.96,69.02 L371.39,68.86 L371.81,68.7 L372.24,68.54 L372.67,68.38 L373.1,68.21 L373.52,68.04 L373.95,67.87 L374.38,67.7 L374.81,67.52 L375.24,67.35 L375.66,67.17 L376.09,66.98 L376.52,66.8 L376.95,66.61 L377.38,66.43 L377.8,66.23 L378.23,66.04 L378.66,65.85 L379.09,65.65 L379.51,65.45 L379.94,65.25 L380.37,65.04 L380.8,64.83 L381.23,64.63 L381.65,64.41 L382.08,64.2 L382.51,63.98 L382.94,63.77 L383.36,63.54 L383.79,63.32 L384.22,63.09 L384.65,62.87 L385.08,62.64 L385.5,62.4 L385.93,62.17 L386.36,61.93 L386.79,61.69 L387.22,61.45 L387.64,61.2 L388.07,60.96 L388.5,60.71 L388.93,60.45 L389.35,60.2 L389.78,59.94 L390.21,59.68 L390.64,59.42 L391.07,59.16 L391.49,58.89 L391.92,58.62 L392.35,58.35 L392.78,58.08 L393.2,57.81 L393.63,57.53 L394.06,57.25 L394.49,56.97 L394.92,56.68 L395.34,56.4 L395.77,56.11 L396.2,55.82 L396.63,55.53 L397.05,55.23 L397.48,54.93 L397.91,54.64 L398.34,54.33 L398.77,54.03 L399.19,53.73 L399.62,53.42 L400.05,53.11 L400.48,52.8 L400.91,52.49 L401.33,52.18 L401.76,51.86 L402.19,51.55 L402.62,51.23 L403.04,50.91 L403.47,50.59 L403.9,50.26 L404.33,49.94 L404.76,49.61 L405.18,49.29 L405.61,48.96 L406.04,48.63 L406.47,48.3 L406.89,47.97 L407.32,47.64 L407.75,47.3 L408.18,46.97 L408.61,46.63 L409.03,46.3 L409.46,45.96 L409.89,45.62 L410.32,45.28 L410.75,44.95 L411.17,44.61 L411.6,44.27 L412.03,43.93 L412.46,43.59 L412.88,43.25 L413.31,42.91 L413.74,42.57 L414.17,42.23 L414.6,41.89 L415.02,41.55 L415.45,41.21 L415.88,40.87 L416.31,40.53 L416.73,40.19 L417.16,39.85 L417.59,39.51 L418.02,39.18 L418.45,38.84 L418.87,38.5 L419.3,38.17 L419.73,37.84 L420.16,37.5 L420.58,37.17 L421.01,36.84 L421.44,36.51 L421.87,36.19 L422.3,35.86 L422.72,35.54 L423.15,35.21 L423.58,34.89 L424.01,34.57 L424.44,34.26 L424.86,33.94 L425.29,33.63 L425.72,33.31 L426.15,33 L426.57,32.69 L427,32.39 L427.43,32.08 L427.86,31.78 L428.29,31.48 L428.71,31.19 L429.14,30.89 L429.57,30.6 L430,30.31 L430.42,30.02 L430.85,29.74 L431.28,29.46 L431.71,29.18 L432.14,28.9 L432.56,28.63 L432.99,28.36 L433.42,28.09 L433.85,27.82 L434.28,27.56 L434.7,27.3 L435.13,27.04 L435.56,26.79 L435.99,26.54 L436.41,26.29 L436.84,26.04 L437.27,25.8 L437.7,25.56 L438.13,25.33 L438.55,25.09 L438.98,24.86 L439.41,24.64 L439.84,24.41 L440.26,24.19 L440.69,23.97 L441.12,23.76 L441.55,23.55 L441.98,23.34 L442.4,23.13 L442.83,22.93 L443.26,22.73 L443.69,22.53 L444.12,22.34 L444.54,22.14 L444.97,21.96 L445.4,21.77 L445.83,21.59 L446.25,21.41 L446.68,21.23 L447.11,21.06 L447.54,20.88 L447.97,20.71 L448.39,20.55 L448.82,20.38 L449.25,20.22 L449.68,20.06 L450.1,19.91 L450.53,19.76 L450.96,19.6 L451.39,19.46 L451.82,19.31 L452.24,19.17 L452.67,19.03 L453.1,18.89 L453.53,18.75 L453.95,18.62 L454.38,18.48 L454.81,18.35 L455.24,18.23 L455.67,18.1 L456.09,17.98 L456.52,17.86 L456.95,17.74 L457.38,17.62 L457.81,17.5 L458.23,17.39 L458.66,17.28 L459.09,17.17 L459.52,17.06 L459.94,16.96 L460.37,16.85 L460.8,16.75 L461.23,16.65 L461.66,16.55 L462.08,16.46 L462.51,16.36 L462.94,16.27 L463.37,16.17 L463.79,16.08 L464.22,15.99 L464.65,15.91 L465.08,15.82 L465.51,15.74 L465.93,15.65 L466.36,15.57 L466.79,15.49 L467.22,15.41 L467.65,15.34 L468.07,15.26 L468.5,15.18 L468.93,15.11 L469.36,15.04 L469.78,14.97 L470.21,14.9 L470.64,14.83 L471.07,14.76 L471.5,14.7 L471.92,14.63 L472.35,14.57 L472.78,14.5 L473.21,14.44 L473.63,14.38 L474.06,14.32 L474.49,14.26 L474.92,14.2 L475.35,14.15 L475.77,14.09 L476.2,14.04 L476.63,13.98 L477.06,13.93 L477.48,13.88 L477.91,13.83 L478.34,13.78 L478.77,13.73 L479.2,13.68 L479.62,13.63 L480.05,13.58 L480.48,13.54 L480.91,13.49 L481.34,13.45 L481.76,13.41 L482.19,13.36 L482.62,13.32 L483.05,13.28 L483.47,13.24 L483.9,13.2 L484.33,13.16 L484.76,13.12 L485.19,13.08 L485.61,13.04 L486.04,13.01 L486.47,12.97 L486.9,12.94 L487.32,12.9 L487.75,12.87 L488.18,12.83 L488.61,12.8 L489.04,12.77 L489.46,12.73 L489.89,12.7 L490.32,12.67 L490.75,12.64 L491.18,12.61 L491.6,12.58 L492.03,12.55 L492.46,12.53 L492.89,12.5 L493.31,12.47 L493.74,12.44 L494.17,12.42 L494.6,12.39 L495.03,12.36 L495.45,12.34 L495.88,12.31 L496.31,12.29 L496.74,12.27 L497.16,12.24 L497.59,12.22 L498.02,12.2 L498.45,12.18 L498.88,12.15 L499.3,12.13 L499.73,12.11 L500.16,12.09 L500.59,12.07 L501.02,12.05 L501.44,12.03 L501.87,12.01 L502.3,11.99 L502.73,11.97 L503.15,11.95 L503.58,11.94 L504.01,11.92 L504.44,11.9 L504.87,11.88 L505.29,11.87 L505.72,11.85 L506.15,11.83 L506.58,11.82 L507,11.8 L507.43,11.79 L507.86,11.77 L508.29,11.76 L508.72,11.74 L509.14,11.73 L509.57,11.71 L510,11.7 L510.43,11.69 L510.85,11.67 L511.28,11.66 L511.71,11.65 L512.14,11.63 L512.57,11.62 L512.99,11.61 L513.42,11.6 L513.85,11.58 L514.28,11.57 L514.71,11.56 L515.13,11.55 L515.56,11.54 L515.99,11.53 L516.42,11.52 L516.84,11.51 L517.27,11.5 L517.7,11.49" fill="none" stroke="#008a00" stroke-width="1.5"/>
<circle cx="357.0" cy="73.3" r="3.4" fill="#72ee62" stroke="#1a1a1a" stroke-width="1"/>
<circle cx="373.8" cy="67.4" r="3.4" fill="#72ee62" stroke="#1a1a1a" stroke-width="1"/>
<circle cx="392.5" cy="63.8" r="3.4" fill="#72ee62" stroke="#1a1a1a" stroke-width="1"/>
<circle cx="400.6" cy="57.8" r="3.4" fill="#72ee62" stroke="#1a1a1a" stroke-width="1"/>
<circle cx="413.9" cy="29.8" r="3.4" fill="#72ee62" stroke="#1a1a1a" stroke-width="1"/>
<circle cx="431.6" cy="30.1" r="3.4" fill="#72ee62" stroke="#1a1a1a" stroke-width="1"/>
<circle cx="454.6" cy="22.3" r="3.4" fill="#72ee62" stroke="#1a1a1a" stroke-width="1"/>
<circle cx="465.1" cy="17.5" r="3.4" fill="#72ee62" stroke="#1a1a1a" stroke-width="1"/>
<circle cx="481.3" cy="14.3" r="3.4" fill="#72ee62" stroke="#1a1a1a" stroke-width="1"/>
<circle cx="500.8" cy="10.9" r="3.4" fill="#72ee62" stroke="#1a1a1a" stroke-width="1"/>
<line x1="343" y1="79.4" x2="347.0" y2="79.4" stroke="#000" stroke-width="1.2"/>
<line x1="513.7" y1="79.4" x2="517.7" y2="79.4" stroke="#000" stroke-width="1.2"/>
<line x1="344.7" y1="62.28" x2="347.0" y2="62.28" stroke="#000" stroke-width="1.2"/>
<line x1="515.4" y1="62.28" x2="517.7" y2="62.28" stroke="#000" stroke-width="1.2"/>
<line x1="343" y1="45.15" x2="347.0" y2="45.15" stroke="#000" stroke-width="1.2"/>
<line x1="513.7" y1="45.15" x2="517.7" y2="45.15" stroke="#000" stroke-width="1.2"/>
<line x1="344.7" y1="28.03" x2="347.0" y2="28.03" stroke="#000" stroke-width="1.2"/>
<line x1="515.4" y1="28.03" x2="517.7" y2="28.03" stroke="#000" stroke-width="1.2"/>
<line x1="343" y1="10.9" x2="347.0" y2="10.9" stroke="#000" stroke-width="1.2"/>
<line x1="513.7" y1="10.9" x2="517.7" y2="10.9" stroke="#000" stroke-width="1.2"/>
<text x="338" y="83.5" font-family="Liberation Serif" font-size="11.8" text-anchor="end">0.0</text>
<text x="338" y="49.25" font-family="Liberation Serif" font-size="11.8" text-anchor="end">0.5</text>
<text x="338" y="15" font-family="Liberation Serif" font-size="11.8" text-anchor="end">1.0</text>
<line x1="403.9" y1="0.5" x2="403.9" y2="4.5" stroke="#000" stroke-width="1.2"/>
<line x1="403.9" y1="82.5" x2="403.9" y2="86.5" stroke="#000" stroke-width="1.2"/>
<line x1="460.8" y1="0.5" x2="460.8" y2="4.5" stroke="#000" stroke-width="1.2"/>
<line x1="460.8" y1="82.5" x2="460.8" y2="86.5" stroke="#000" stroke-width="1.2"/>
<text x="352.6" y="15" font-family="Liberation Serif" font-size="12.2">250 K</text>
<text x="497" y="77" font-family="Liberation Serif" font-size="13">(<tspan font-style="italic">b</tspan>)</text>
<path d="M347,164.15 L347.43,164.12 L347.86,164.09 L348.28,164.06 L348.71,164.03 L349.14,164 L349.57,163.96 L349.99,163.93 L350.42,163.9 L350.85,163.86 L351.28,163.83 L351.71,163.79 L352.13,163.75 L352.56,163.72 L352.99,163.68 L353.42,163.64 L353.85,163.6 L354.27,163.56 L354.7,163.52 L355.13,163.48 L355.56,163.44 L355.98,163.4 L356.41,163.36 L356.84,163.31 L357.27,163.27 L357.7,163.22 L358.12,163.18 L358.55,163.13 L358.98,163.08 L359.41,163.04 L359.83,162.99 L360.26,162.94 L360.69,162.89 L361.12,162.84 L361.55,162.78 L361.97,162.73 L362.4,162.68 L362.83,162.62 L363.26,162.56 L363.68,162.51 L364.11,162.45 L364.54,162.39 L364.97,162.33 L365.4,162.27 L365.82,162.21 L366.25,162.15 L366.68,162.08 L367.11,162.02 L367.54,161.95 L367.96,161.89 L368.39,161.82 L368.82,161.75 L369.25,161.68 L369.67,161.61 L370.1,161.54 L370.53,161.46 L370.96,161.39 L371.39,161.31 L371.81,161.23 L372.24,161.15 L372.67,161.07 L373.1,160.99 L373.52,160.91 L373.95,160.83 L374.38,160.74 L374.81,160.66 L375.24,160.57 L375.66,160.48 L376.09,160.39 L376.52,160.29 L376.95,160.2 L377.38,160.11 L377.8,160.01 L378.23,159.91 L378.66,159.81 L379.09,159.71 L379.51,159.61 L379.94,159.5 L380.37,159.4 L380.8,159.29 L381.23,159.18 L381.65,159.07 L382.08,158.95 L382.51,158.84 L382.94,158.72 L383.36,158.6 L383.79,158.48 L384.22,158.36 L384.65,158.24 L385.08,158.11 L385.5,157.98 L385.93,157.85 L386.36,157.72 L386.79,157.59 L387.22,157.45 L387.64,157.31 L388.07,157.18 L388.5,157.03 L388.93,156.89 L389.35,156.74 L389.78,156.59 L390.21,156.44 L390.64,156.29 L391.07,156.13 L391.49,155.98 L391.92,155.82 L392.35,155.66 L392.78,155.49 L393.2,155.32 L393.63,155.15 L394.06,154.98 L394.49,154.81 L394.92,154.63 L395.34,154.45 L395.77,154.27 L396.2,154.09 L396.63,153.9 L397.05,153.71 L397.48,153.52 L397.91,153.32 L398.34,153.12 L398.77,152.92 L399.19,152.72 L399.62,152.51 L400.05,152.3 L400.48,152.09 L400.91,151.88 L401.33,151.66 L401.76,151.44 L402.19,151.22 L402.62,150.99 L403.04,150.76 L403.47,150.53 L403.9,150.29 L404.33,150.05 L404.76,149.81 L405.18,149.57 L405.61,149.32 L406.04,149.07 L406.47,148.82 L406.89,148.56 L407.32,148.3 L407.75,148.04 L408.18,147.77 L408.61,147.5 L409.03,147.23 L409.46,146.95 L409.89,146.67 L410.32,146.39 L410.75,146.1 L411.17,145.81 L411.6,145.52 L412.03,145.22 L412.46,144.92 L412.88,144.62 L413.31,144.32 L413.74,144.01 L414.17,143.69 L414.6,143.38 L415.02,143.06 L415.45,142.74 L415.88,142.41 L416.31,142.08 L416.73,141.75 L417.16,141.42 L417.59,141.08 L418.02,140.73 L418.45,140.39 L418.87,140.04 L419.3,139.69 L419.73,139.33 L420.16,138.98 L420.58,138.61 L421.01,138.25 L421.44,137.88 L421.87,137.51 L422.3,137.14 L422.72,136.76 L423.15,136.38 L423.58,136 L424.01,135.62 L424.44,135.23 L424.86,134.84 L425.29,134.45 L425.72,134.05 L426.15,133.65 L426.57,133.25 L427,132.85 L427.43,132.44 L427.86,132.03 L428.29,131.62 L428.71,131.21 L429.14,130.8 L429.57,130.38 L430,129.96 L430.42,129.54 L430.85,129.12 L431.28,128.69 L431.71,128.27 L432.14,127.84 L432.56,127.41 L432.99,126.98 L433.42,126.55 L433.85,126.12 L434.28,125.69 L434.7,125.25 L435.13,124.82 L435.56,124.38 L435.99,123.94 L436.41,123.51 L436.84,123.07 L437.27,122.63 L437.7,122.2 L438.13,121.76 L438.55,121.32 L438.98,120.89 L439.41,120.45 L439.84,120.02 L440.26,119.58 L440.69,119.15 L441.12,118.72 L441.55,118.29 L441.98,117.86 L442.4,117.43 L442.83,117 L443.26,116.58 L443.69,116.16 L444.12,115.74 L444.54,115.32 L444.97,114.9 L445.4,114.49 L445.83,114.08 L446.25,113.67 L446.68,113.27 L447.11,112.86 L447.54,112.47 L447.97,112.07 L448.39,111.68 L448.82,111.29 L449.25,110.91 L449.68,110.53 L450.1,110.16 L450.53,109.79 L450.96,109.42 L451.39,109.06 L451.82,108.7 L452.24,108.35 L452.67,108 L453.1,107.66 L453.53,107.33 L453.95,106.99 L454.38,106.67 L454.81,106.35 L455.24,106.03 L455.67,105.73 L456.09,105.42 L456.52,105.13 L456.95,104.83 L457.38,104.55 L457.81,104.27 L458.23,104 L458.66,103.73 L459.09,103.47 L459.52,103.22 L459.94,102.97 L460.37,102.73 L460.8,102.49 L461.23,102.26 L461.66,102.04 L462.08,101.82 L462.51,101.61 L462.94,101.41 L463.37,101.21 L463.79,101.02 L464.22,100.84 L464.65,100.66 L465.08,100.49 L465.51,100.32 L465.93,100.16 L466.36,100.01 L466.79,99.86 L467.22,99.71 L467.65,99.58 L468.07,99.45 L468.5,99.32 L468.93,99.2 L469.36,99.08 L469.78,98.97 L470.21,98.87 L470.64,98.77 L471.07,98.67 L471.5,98.58 L471.92,98.5 L472.35,98.41 L472.78,98.34 L473.21,98.26 L473.63,98.2 L474.06,98.13 L474.49,98.07 L474.92,98.01 L475.35,97.96 L475.77,97.9 L476.2,97.86 L476.63,97.81 L477.06,97.77 L477.48,97.73 L477.91,97.69 L478.34,97.66 L478.77,97.63 L479.2,97.6 L479.62,97.57 L480.05,97.55 L480.48,97.52 L480.91,97.5 L481.34,97.48 L481.76,97.47 L482.19,97.45 L482.62,97.43 L483.05,97.42 L483.47,97.41 L483.9,97.4 L484.33,97.39 L484.76,97.38 L485.19,97.37 L485.61,97.36 L486.04,97.35 L486.47,97.35 L486.9,97.34 L487.32,97.34 L487.75,97.33 L488.18,97.33 L488.61,97.32 L489.04,97.32 L489.46,97.32 L489.89,97.32 L490.32,97.31 L490.75,97.31 L491.18,97.31 L491.6,97.31 L492.03,97.31 L492.46,97.31 L492.89,97.31 L493.31,97.3 L493.74,97.3 L494.17,97.3 L494.6,97.3 L495.03,97.3 L495.45,97.3 L495.88,97.3 L496.31,97.3 L496.74,97.3 L497.16,97.3 L497.59,97.3 L498.02,97.3 L498.45,97.3 L498.88,97.3 L499.3,97.3 L499.73,97.3 L500.16,97.3 L500.59,97.3 L501.02,97.3 L501.44,97.3 L501.87,97.3 L502.3,97.3 L502.73,97.3 L503.15,97.3 L503.58,97.3 L504.01,97.3 L504.44,97.3 L504.87,97.3 L505.29,97.3 L505.72,97.3 L506.15,97.3 L506.58,97.3 L507,97.3 L507.43,97.3 L507.86,97.3 L508.29,97.3 L508.72,97.3 L509.14,97.3 L509.57,97.3 L510,97.3 L510.43,97.3 L510.85,97.3 L511.28,97.3 L511.71,97.3 L512.14,97.3 L512.57,97.3 L512.99,97.3 L513.42,97.3 L513.85,97.3 L514.28,97.3 L514.71,97.3 L515.13,97.3 L515.56,97.3 L515.99,97.3 L516.42,97.3 L516.84,97.3 L517.27,97.3 L517.7,97.3" fill="none" stroke="#ff0000" stroke-width="1.5" stroke-dasharray="6.3,3.2,1.6,3.2" stroke-dashoffset="9.34"/>
<path d="M347,163.52 L347.43,163.48 L347.86,163.44 L348.28,163.39 L348.71,163.35 L349.14,163.31 L349.57,163.26 L349.99,163.22 L350.42,163.17 L350.85,163.13 L351.28,163.08 L351.71,163.03 L352.13,162.99 L352.56,162.94 L352.99,162.89 L353.42,162.84 L353.85,162.79 L354.27,162.73 L354.7,162.68 L355.13,162.63 L355.56,162.57 L355.98,162.52 L356.41,162.46 L356.84,162.4 L357.27,162.34 L357.7,162.28 L358.12,162.22 L358.55,162.16 L358.98,162.1 L359.41,162.04 L359.83,161.97 L360.26,161.91 L360.69,161.84 L361.12,161.77 L361.55,161.71 L361.97,161.64 L362.4,161.57 L362.83,161.49 L363.26,161.42 L363.68,161.35 L364.11,161.27 L364.54,161.2 L364.97,161.12 L365.4,161.04 L365.82,160.96 L366.25,160.88 L366.68,160.8 L367.11,160.71 L367.54,160.63 L367.96,160.54 L368.39,160.46 L368.82,160.37 L369.25,160.28 L369.67,160.19 L370.1,160.09 L370.53,160 L370.96,159.9 L371.39,159.81 L371.81,159.71 L372.24,159.61 L372.67,159.51 L373.1,159.4 L373.52,159.3 L373.95,159.19 L374.38,159.09 L374.81,158.98 L375.24,158.87 L375.66,158.75 L376.09,158.64 L376.52,158.53 L376.95,158.41 L377.38,158.29 L377.8,158.17 L378.23,158.05 L378.66,157.92 L379.09,157.8 L379.51,157.67 L379.94,157.54 L380.37,157.41 L380.8,157.28 L381.23,157.14 L381.65,157.01 L382.08,156.87 L382.51,156.73 L382.94,156.58 L383.36,156.44 L383.79,156.29 L384.22,156.15 L384.65,156 L385.08,155.84 L385.5,155.69 L385.93,155.53 L386.36,155.38 L386.79,155.22 L387.22,155.05 L387.64,154.89 L388.07,154.72 L388.5,154.55 L388.93,154.38 L389.35,154.21 L389.78,154.04 L390.21,153.86 L390.64,153.68 L391.07,153.5 L391.49,153.31 L391.92,153.13 L392.35,152.94 L392.78,152.75 L393.2,152.56 L393.63,152.36 L394.06,152.16 L394.49,151.96 L394.92,151.76 L395.34,151.56 L395.77,151.35 L396.2,151.14 L396.63,150.93 L397.05,150.71 L397.48,150.5 L397.91,150.28 L398.34,150.06 L398.77,149.84 L399.19,149.61 L399.62,149.38 L400.05,149.15 L400.48,148.92 L400.91,148.68 L401.33,148.45 L401.76,148.21 L402.19,147.96 L402.62,147.72 L403.04,147.47 L403.47,147.22 L403.9,146.97 L404.33,146.72 L404.76,146.46 L405.18,146.2 L405.61,145.94 L406.04,145.67 L406.47,145.41 L406.89,145.14 L407.32,144.87 L407.75,144.6 L408.18,144.32 L408.61,144.04 L409.03,143.76 L409.46,143.48 L409.89,143.2 L410.32,142.91 L410.75,142.62 L411.17,142.33 L411.6,142.04 L412.03,141.75 L412.46,141.45 L412.88,141.15 L413.31,140.85 L413.74,140.55 L414.17,140.24 L414.6,139.94 L415.02,139.63 L415.45,139.32 L415.88,139.01 L416.31,138.69 L416.73,138.38 L417.16,138.06 L417.59,137.74 L418.02,137.42 L418.45,137.1 L418.87,136.78 L419.3,136.45 L419.73,136.13 L420.16,135.8 L420.58,135.47 L421.01,135.14 L421.44,134.81 L421.87,134.48 L422.3,134.15 L422.72,133.81 L423.15,133.48 L423.58,133.14 L424.01,132.81 L424.44,132.47 L424.86,132.13 L425.29,131.79 L425.72,131.45 L426.15,131.11 L426.57,130.77 L427,130.43 L427.43,130.09 L427.86,129.75 L428.29,129.41 L428.71,129.07 L429.14,128.73 L429.57,128.39 L430,128.05 L430.42,127.71 L430.85,127.37 L431.28,127.03 L431.71,126.69 L432.14,126.35 L432.56,126.01 L432.99,125.68 L433.42,125.34 L433.85,125 L434.28,124.67 L434.7,124.33 L435.13,124 L435.56,123.67 L435.99,123.34 L436.41,123.01 L436.84,122.68 L437.27,122.35 L437.7,122.03 L438.13,121.71 L438.55,121.38 L438.98,121.06 L439.41,120.74 L439.84,120.43 L440.26,120.11 L440.69,119.8 L441.12,119.49 L441.55,119.18 L441.98,118.87 L442.4,118.57 L442.83,118.27 L443.26,117.97 L443.69,117.67 L444.12,117.37 L444.54,117.08 L444.97,116.79 L445.4,116.5 L445.83,116.22 L446.25,115.93 L446.68,115.65 L447.11,115.37 L447.54,115.1 L447.97,114.83 L448.39,114.56 L448.82,114.29 L449.25,114.03 L449.68,113.77 L450.1,113.51 L450.53,113.26 L450.96,113 L451.39,112.76 L451.82,112.51 L452.24,112.27 L452.67,112.03 L453.1,111.79 L453.53,111.56 L453.95,111.32 L454.38,111.1 L454.81,110.87 L455.24,110.65 L455.67,110.43 L456.09,110.21 L456.52,110 L456.95,109.79 L457.38,109.58 L457.81,109.38 L458.23,109.18 L458.66,108.98 L459.09,108.79 L459.52,108.59 L459.94,108.4 L460.37,108.22 L460.8,108.03 L461.23,107.85 L461.66,107.68 L462.08,107.5 L462.51,107.33 L462.94,107.16 L463.37,106.99 L463.79,106.83 L464.22,106.66 L464.65,106.51 L465.08,106.35 L465.51,106.19 L465.93,106.04 L466.36,105.89 L466.79,105.75 L467.22,105.6 L467.65,105.46 L468.07,105.32 L468.5,105.18 L468.93,105.05 L469.36,104.92 L469.78,104.79 L470.21,104.66 L470.64,104.53 L471.07,104.41 L471.5,104.29 L471.92,104.17 L472.35,104.05 L472.78,103.93 L473.21,103.82 L473.63,103.71 L474.06,103.6 L474.49,103.49 L474.92,103.38 L475.35,103.28 L475.77,103.18 L476.2,103.08 L476.63,102.98 L477.06,102.88 L477.48,102.78 L477.91,102.69 L478.34,102.6 L478.77,102.51 L479.2,102.42 L479.62,102.33 L480.05,102.24 L480.48,102.16 L480.91,102.08 L481.34,101.99 L481.76,101.91 L482.19,101.83 L482.62,101.76 L483.05,101.68 L483.47,101.6 L483.9,101.53 L484.33,101.46 L484.76,101.39 L485.19,101.32 L485.61,101.25 L486.04,101.18 L486.47,101.11 L486.9,101.05 L487.32,100.98 L487.75,100.92 L488.18,100.86 L488.61,100.8 L489.04,100.74 L489.46,100.68 L489.89,100.62 L490.32,100.56 L490.75,100.51 L491.18,100.45 L491.6,100.4 L492.03,100.34 L492.46,100.29 L492.89,100.24 L493.31,100.19 L493.74,100.14 L494.17,100.09 L494.6,100.04 L495.03,100 L495.45,99.95 L495.88,99.91 L496.31,99.86 L496.74,99.82 L497.16,99.77 L497.59,99.73 L498.02,99.69 L498.45,99.65 L498.88,99.61 L499.3,99.57 L499.73,99.53 L500.16,99.49 L500.59,99.45 L501.02,99.42 L501.44,99.38 L501.87,99.34 L502.3,99.31 L502.73,99.27 L503.15,99.24 L503.58,99.21 L504.01,99.17 L504.44,99.14 L504.87,99.11 L505.29,99.08 L505.72,99.05 L506.15,99.02 L506.58,98.99 L507,98.96 L507.43,98.93 L507.86,98.9 L508.29,98.88 L508.72,98.85 L509.14,98.82 L509.57,98.8 L510,98.77 L510.43,98.75 L510.85,98.72 L511.28,98.7 L511.71,98.67 L512.14,98.65 L512.57,98.63 L512.99,98.6 L513.42,98.58 L513.85,98.56 L514.28,98.54 L514.71,98.52 L515.13,98.5 L515.56,98.47 L515.99,98.45 L516.42,98.43 L516.84,98.42 L517.27,98.4 L517.7,98.38" fill="none" stroke="#720000" stroke-width="1.5"/>
<circle cx="356.9" cy="161.5" r="3.4" fill="#ff8800" stroke="#1a1a1a" stroke-width="1"/>
<circle cx="373.9" cy="159.9" r="3.4" fill="#ff8800" stroke="#1a1a1a" stroke-width="1"/>
<circle cx="392.4" cy="157.3" r="3.4" fill="#ff8800" stroke="#1a1a1a" stroke-width="1"/>
<circle cx="400.4" cy="152.2" r="3.4" fill="#ff8800" stroke="#1a1a1a" stroke-width="1"/>
<circle cx="414.0" cy="132.6" r="3.4" fill="#ff8800" stroke="#1a1a1a" stroke-width="1"/>
<circle cx="431.5" cy="128.1" r="3.4" fill="#ff8800" stroke="#1a1a1a" stroke-width="1"/>
<circle cx="454.3" cy="113.9" r="3.4" fill="#ff8800" stroke="#1a1a1a" stroke-width="1"/>
<circle cx="465.3" cy="106.4" r="3.4" fill="#ff8800" stroke="#1a1a1a" stroke-width="1"/>
<circle cx="481" cy="100.9" r="3.4" fill="#ff8800" stroke="#1a1a1a" stroke-width="1"/>
<circle cx="500.7" cy="97.2" r="3.4" fill="#ff8800" stroke="#1a1a1a" stroke-width="1"/>
<line x1="343" y1="165.9" x2="347.0" y2="165.9" stroke="#000" stroke-width="1.2"/>
<line x1="513.7" y1="165.9" x2="517.7" y2="165.9" stroke="#000" stroke-width="1.2"/>
<line x1="344.7" y1="148.75" x2="347.0" y2="148.75" stroke="#000" stroke-width="1.2"/>
<line x1="515.4" y1="148.75" x2="517.7" y2="148.75" stroke="#000" stroke-width="1.2"/>
<line x1="343" y1="131.6" x2="347.0" y2="131.6" stroke="#000" stroke-width="1.2"/>
<line x1="513.7" y1="131.6" x2="517.7" y2="131.6" stroke="#000" stroke-width="1.2"/>
<line x1="344.7" y1="114.45" x2="347.0" y2="114.45" stroke="#000" stroke-width="1.2"/>
<line x1="515.4" y1="114.45" x2="517.7" y2="114.45" stroke="#000" stroke-width="1.2"/>
<line x1="343" y1="97.3" x2="347.0" y2="97.3" stroke="#000" stroke-width="1.2"/>
<line x1="513.7" y1="97.3" x2="517.7" y2="97.3" stroke="#000" stroke-width="1.2"/>
<text x="338" y="170" font-family="Liberation Serif" font-size="11.8" text-anchor="end">0.0</text>
<text x="338" y="135.7" font-family="Liberation Serif" font-size="11.8" text-anchor="end">0.5</text>
<text x="338" y="101.4" font-family="Liberation Serif" font-size="11.8" text-anchor="end">1.0</text>
<line x1="403.9" y1="86.5" x2="403.9" y2="90.5" stroke="#000" stroke-width="1.2"/>
<line x1="403.9" y1="168.6" x2="403.9" y2="172.6" stroke="#000" stroke-width="1.2"/>
<line x1="460.8" y1="86.5" x2="460.8" y2="90.5" stroke="#000" stroke-width="1.2"/>
<line x1="460.8" y1="168.6" x2="460.8" y2="172.6" stroke="#000" stroke-width="1.2"/>
<text x="352.6" y="101" font-family="Liberation Serif" font-size="12.2">150 K</text>
<text x="497" y="163" font-family="Liberation Serif" font-size="13">(<tspan font-style="italic">c</tspan>)</text>
<path d="M347,250.72 L347.43,250.71 L347.86,250.7 L348.28,250.69 L348.71,250.68 L349.14,250.67 L349.57,250.65 L349.99,250.64 L350.42,250.63 L350.85,250.62 L351.28,250.61 L351.71,250.6 L352.13,250.58 L352.56,250.57 L352.99,250.56 L353.42,250.55 L353.85,250.53 L354.27,250.52 L354.7,250.51 L355.13,250.49 L355.56,250.48 L355.98,250.46 L356.41,250.45 L356.84,250.43 L357.27,250.42 L357.7,250.4 L358.12,250.39 L358.55,250.37 L358.98,250.36 L359.41,250.34 L359.83,250.32 L360.26,250.31 L360.69,250.29 L361.12,250.27 L361.55,250.25 L361.97,250.24 L362.4,250.22 L362.83,250.2 L363.26,250.18 L363.68,250.16 L364.11,250.14 L364.54,250.12 L364.97,250.1 L365.4,250.08 L365.82,250.06 L366.25,250.04 L366.68,250.02 L367.11,249.99 L367.54,249.97 L367.96,249.95 L368.39,249.92 L368.82,249.9 L369.25,249.88 L369.67,249.85 L370.1,249.83 L370.53,249.8 L370.96,249.78 L371.39,249.75 L371.81,249.72 L372.24,249.69 L372.67,249.67 L373.1,249.64 L373.52,249.61 L373.95,249.58 L374.38,249.55 L374.81,249.52 L375.24,249.49 L375.66,249.46 L376.09,249.43 L376.52,249.4 L376.95,249.36 L377.38,249.33 L377.8,249.3 L378.23,249.26 L378.66,249.23 L379.09,249.19 L379.51,249.15 L379.94,249.12 L380.37,249.08 L380.8,249.04 L381.23,249 L381.65,248.96 L382.08,248.92 L382.51,248.88 L382.94,248.84 L383.36,248.8 L383.79,248.76 L384.22,248.71 L384.65,248.67 L385.08,248.62 L385.5,248.58 L385.93,248.53 L386.36,248.48 L386.79,248.44 L387.22,248.39 L387.64,248.34 L388.07,248.29 L388.5,248.23 L388.93,248.18 L389.35,248.13 L389.78,248.08 L390.21,248.02 L390.64,247.96 L391.07,247.91 L391.49,247.85 L391.92,247.79 L392.35,247.73 L392.78,247.67 L393.2,247.61 L393.63,247.55 L394.06,247.48 L394.49,247.42 L394.92,247.35 L395.34,247.29 L395.77,247.22 L396.2,247.15 L396.63,247.08 L397.05,247.01 L397.48,246.93 L397.91,246.86 L398.34,246.79 L398.77,246.71 L399.19,246.63 L399.62,246.55 L400.05,246.47 L400.48,246.39 L400.91,246.31 L401.33,246.23 L401.76,246.14 L402.19,246.05 L402.62,245.97 L403.04,245.88 L403.47,245.79 L403.9,245.69 L404.33,245.6 L404.76,245.51 L405.18,245.41 L405.61,245.31 L406.04,245.21 L406.47,245.11 L406.89,245.01 L407.32,244.9 L407.75,244.8 L408.18,244.69 L408.61,244.58 L409.03,244.47 L409.46,244.35 L409.89,244.24 L410.32,244.12 L410.75,244 L411.17,243.88 L411.6,243.76 L412.03,243.64 L412.46,243.51 L412.88,243.38 L413.31,243.25 L413.74,243.12 L414.17,242.99 L414.6,242.85 L415.02,242.71 L415.45,242.57 L415.88,242.43 L416.31,242.29 L416.73,242.14 L417.16,241.99 L417.59,241.84 L418.02,241.69 L418.45,241.53 L418.87,241.38 L419.3,241.22 L419.73,241.05 L420.16,240.89 L420.58,240.72 L421.01,240.55 L421.44,240.38 L421.87,240.21 L422.3,240.03 L422.72,239.85 L423.15,239.67 L423.58,239.48 L424.01,239.3 L424.44,239.11 L424.86,238.91 L425.29,238.72 L425.72,238.52 L426.15,238.32 L426.57,238.12 L427,237.91 L427.43,237.7 L427.86,237.49 L428.29,237.28 L428.71,237.06 L429.14,236.84 L429.57,236.61 L430,236.39 L430.42,236.16 L430.85,235.93 L431.28,235.69 L431.71,235.45 L432.14,235.21 L432.56,234.97 L432.99,234.72 L433.42,234.47 L433.85,234.21 L434.28,233.96 L434.7,233.7 L435.13,233.43 L435.56,233.17 L435.99,232.9 L436.41,232.62 L436.84,232.35 L437.27,232.07 L437.7,231.79 L438.13,231.5 L438.55,231.21 L438.98,230.92 L439.41,230.62 L439.84,230.32 L440.26,230.02 L440.69,229.71 L441.12,229.4 L441.55,229.09 L441.98,228.78 L442.4,228.46 L442.83,228.13 L443.26,227.81 L443.69,227.48 L444.12,227.15 L444.54,226.81 L444.97,226.47 L445.4,226.13 L445.83,225.79 L446.25,225.44 L446.68,225.09 L447.11,224.73 L447.54,224.37 L447.97,224.01 L448.39,223.65 L448.82,223.28 L449.25,222.91 L449.68,222.54 L450.1,222.16 L450.53,221.78 L450.96,221.4 L451.39,221.01 L451.82,220.63 L452.24,220.24 L452.67,219.84 L453.1,219.45 L453.53,219.05 L453.95,218.65 L454.38,218.24 L454.81,217.84 L455.24,217.43 L455.67,217.02 L456.09,216.61 L456.52,216.19 L456.95,215.78 L457.38,215.36 L457.81,214.94 L458.23,214.51 L458.66,214.09 L459.09,213.66 L459.52,213.24 L459.94,212.81 L460.37,212.38 L460.8,211.95 L461.23,211.51 L461.66,211.08 L462.08,210.65 L462.51,210.21 L462.94,209.78 L463.37,209.34 L463.79,208.9 L464.22,208.47 L464.65,208.03 L465.08,207.59 L465.51,207.16 L465.93,206.72 L466.36,206.28 L466.79,205.85 L467.22,205.41 L467.65,204.98 L468.07,204.55 L468.5,204.11 L468.93,203.68 L469.36,203.25 L469.78,202.83 L470.21,202.4 L470.64,201.97 L471.07,201.55 L471.5,201.13 L471.92,200.71 L472.35,200.3 L472.78,199.88 L473.21,199.47 L473.63,199.07 L474.06,198.66 L474.49,198.26 L474.92,197.86 L475.35,197.47 L475.77,197.08 L476.2,196.69 L476.63,196.31 L477.06,195.93 L477.48,195.55 L477.91,195.18 L478.34,194.82 L478.77,194.46 L479.2,194.1 L479.62,193.75 L480.05,193.4 L480.48,193.06 L480.91,192.72 L481.34,192.39 L481.76,192.07 L482.19,191.75 L482.62,191.43 L483.05,191.12 L483.47,190.82 L483.9,190.52 L484.33,190.23 L484.76,189.95 L485.19,189.67 L485.61,189.39 L486.04,189.13 L486.47,188.87 L486.9,188.61 L487.32,188.37 L487.75,188.12 L488.18,187.89 L488.61,187.66 L489.04,187.44 L489.46,187.22 L489.89,187.01 L490.32,186.81 L490.75,186.61 L491.18,186.42 L491.6,186.24 L492.03,186.06 L492.46,185.89 L492.89,185.72 L493.31,185.56 L493.74,185.4 L494.17,185.26 L494.6,185.11 L495.03,184.98 L495.45,184.84 L495.88,184.72 L496.31,184.6 L496.74,184.48 L497.16,184.37 L497.59,184.27 L498.02,184.17 L498.45,184.07 L498.88,183.98 L499.3,183.9 L499.73,183.81 L500.16,183.74 L500.59,183.66 L501.02,183.59 L501.44,183.53 L501.87,183.47 L502.3,183.41 L502.73,183.36 L503.15,183.3 L503.58,183.26 L504.01,183.21 L504.44,183.17 L504.87,183.13 L505.29,183.09 L505.72,183.06 L506.15,183.03 L506.58,183 L507,182.97 L507.43,182.95 L507.86,182.92 L508.29,182.9 L508.72,182.88 L509.14,182.86 L509.57,182.85 L510,182.83 L510.43,182.82 L510.85,182.81 L511.28,182.8 L511.71,182.79 L512.14,182.78 L512.57,182.77 L512.99,182.76 L513.42,182.75 L513.85,182.75 L514.28,182.74 L514.71,182.74 L515.13,182.73 L515.56,182.73 L515.99,182.72 L516.42,182.72 L516.84,182.72 L517.27,182.72 L517.7,182.71" fill="none" stroke="#2a9ad8" stroke-width="1.5" stroke-dasharray="6.3,3.2,1.6,3.2" stroke-dashoffset="12.01"/>
<path d="M347,250.47 L347.43,250.46 L347.86,250.45 L348.28,250.43 L348.71,250.42 L349.14,250.4 L349.57,250.38 L349.99,250.37 L350.42,250.35 L350.85,250.34 L351.28,250.32 L351.71,250.3 L352.13,250.29 L352.56,250.27 L352.99,250.25 L353.42,250.23 L353.85,250.21 L354.27,250.2 L354.7,250.18 L355.13,250.16 L355.56,250.14 L355.98,250.12 L356.41,250.1 L356.84,250.08 L357.27,250.06 L357.7,250.03 L358.12,250.01 L358.55,249.99 L358.98,249.97 L359.41,249.94 L359.83,249.92 L360.26,249.9 L360.69,249.87 L361.12,249.85 L361.55,249.82 L361.97,249.8 L362.4,249.77 L362.83,249.75 L363.26,249.72 L363.68,249.69 L364.11,249.67 L364.54,249.64 L364.97,249.61 L365.4,249.58 L365.82,249.55 L366.25,249.52 L366.68,249.49 L367.11,249.46 L367.54,249.43 L367.96,249.4 L368.39,249.36 L368.82,249.33 L369.25,249.3 L369.67,249.26 L370.1,249.23 L370.53,249.19 L370.96,249.16 L371.39,249.12 L371.81,249.08 L372.24,249.05 L372.67,249.01 L373.1,248.97 L373.52,248.93 L373.95,248.89 L374.38,248.85 L374.81,248.81 L375.24,248.77 L375.66,248.72 L376.09,248.68 L376.52,248.64 L376.95,248.59 L377.38,248.54 L377.8,248.5 L378.23,248.45 L378.66,248.4 L379.09,248.35 L379.51,248.3 L379.94,248.25 L380.37,248.2 L380.8,248.15 L381.23,248.1 L381.65,248.05 L382.08,247.99 L382.51,247.94 L382.94,247.88 L383.36,247.82 L383.79,247.76 L384.22,247.7 L384.65,247.64 L385.08,247.58 L385.5,247.52 L385.93,247.46 L386.36,247.4 L386.79,247.33 L387.22,247.26 L387.64,247.2 L388.07,247.13 L388.5,247.06 L388.93,246.99 L389.35,246.92 L389.78,246.85 L390.21,246.77 L390.64,246.7 L391.07,246.62 L391.49,246.55 L391.92,246.47 L392.35,246.39 L392.78,246.31 L393.2,246.23 L393.63,246.14 L394.06,246.06 L394.49,245.97 L394.92,245.89 L395.34,245.8 L395.77,245.71 L396.2,245.62 L396.63,245.53 L397.05,245.43 L397.48,245.34 L397.91,245.24 L398.34,245.14 L398.77,245.04 L399.19,244.94 L399.62,244.84 L400.05,244.74 L400.48,244.63 L400.91,244.52 L401.33,244.42 L401.76,244.31 L402.19,244.19 L402.62,244.08 L403.04,243.97 L403.47,243.85 L403.9,243.73 L404.33,243.61 L404.76,243.49 L405.18,243.37 L405.61,243.24 L406.04,243.11 L406.47,242.99 L406.89,242.86 L407.32,242.72 L407.75,242.59 L408.18,242.45 L408.61,242.32 L409.03,242.18 L409.46,242.03 L409.89,241.89 L410.32,241.74 L410.75,241.6 L411.17,241.45 L411.6,241.3 L412.03,241.14 L412.46,240.99 L412.88,240.83 L413.31,240.67 L413.74,240.51 L414.17,240.35 L414.6,240.18 L415.02,240.01 L415.45,239.84 L415.88,239.67 L416.31,239.5 L416.73,239.32 L417.16,239.14 L417.59,238.96 L418.02,238.78 L418.45,238.59 L418.87,238.4 L419.3,238.21 L419.73,238.02 L420.16,237.83 L420.58,237.63 L421.01,237.43 L421.44,237.23 L421.87,237.03 L422.3,236.82 L422.72,236.61 L423.15,236.4 L423.58,236.19 L424.01,235.97 L424.44,235.76 L424.86,235.54 L425.29,235.31 L425.72,235.09 L426.15,234.86 L426.57,234.63 L427,234.4 L427.43,234.16 L427.86,233.93 L428.29,233.69 L428.71,233.45 L429.14,233.2 L429.57,232.96 L430,232.71 L430.42,232.46 L430.85,232.2 L431.28,231.95 L431.71,231.69 L432.14,231.43 L432.56,231.17 L432.99,230.9 L433.42,230.63 L433.85,230.36 L434.28,230.09 L434.7,229.82 L435.13,229.54 L435.56,229.26 L435.99,228.98 L436.41,228.7 L436.84,228.41 L437.27,228.12 L437.7,227.83 L438.13,227.54 L438.55,227.25 L438.98,226.95 L439.41,226.65 L439.84,226.35 L440.26,226.05 L440.69,225.75 L441.12,225.44 L441.55,225.13 L441.98,224.83 L442.4,224.51 L442.83,224.2 L443.26,223.89 L443.69,223.57 L444.12,223.25 L444.54,222.93 L444.97,222.61 L445.4,222.29 L445.83,221.97 L446.25,221.64 L446.68,221.31 L447.11,220.99 L447.54,220.66 L447.97,220.33 L448.39,219.99 L448.82,219.66 L449.25,219.33 L449.68,218.99 L450.1,218.66 L450.53,218.32 L450.96,217.99 L451.39,217.65 L451.82,217.31 L452.24,216.97 L452.67,216.63 L453.1,216.29 L453.53,215.95 L453.95,215.61 L454.38,215.27 L454.81,214.93 L455.24,214.59 L455.67,214.25 L456.09,213.91 L456.52,213.57 L456.95,213.23 L457.38,212.89 L457.81,212.55 L458.23,212.21 L458.66,211.87 L459.09,211.53 L459.52,211.19 L459.94,210.85 L460.37,210.52 L460.8,210.18 L461.23,209.85 L461.66,209.51 L462.08,209.18 L462.51,208.85 L462.94,208.52 L463.37,208.19 L463.79,207.87 L464.22,207.54 L464.65,207.22 L465.08,206.89 L465.51,206.57 L465.93,206.25 L466.36,205.94 L466.79,205.62 L467.22,205.31 L467.65,204.99 L468.07,204.69 L468.5,204.38 L468.93,204.07 L469.36,203.77 L469.78,203.47 L470.21,203.17 L470.64,202.87 L471.07,202.58 L471.5,202.29 L471.92,202 L472.35,201.71 L472.78,201.43 L473.21,201.15 L473.63,200.87 L474.06,200.59 L474.49,200.32 L474.92,200.05 L475.35,199.78 L475.77,199.52 L476.2,199.26 L476.63,199 L477.06,198.74 L477.48,198.49 L477.91,198.24 L478.34,197.99 L478.77,197.75 L479.2,197.51 L479.62,197.27 L480.05,197.04 L480.48,196.8 L480.91,196.57 L481.34,196.35 L481.76,196.13 L482.19,195.91 L482.62,195.69 L483.05,195.47 L483.47,195.26 L483.9,195.06 L484.33,194.85 L484.76,194.65 L485.19,194.45 L485.61,194.25 L486.04,194.06 L486.47,193.87 L486.9,193.68 L487.32,193.5 L487.75,193.32 L488.18,193.14 L488.61,192.96 L489.04,192.79 L489.46,192.62 L489.89,192.45 L490.32,192.28 L490.75,192.12 L491.18,191.96 L491.6,191.8 L492.03,191.65 L492.46,191.49 L492.89,191.35 L493.31,191.2 L493.74,191.05 L494.17,190.91 L494.6,190.77 L495.03,190.63 L495.45,190.5 L495.88,190.36 L496.31,190.23 L496.74,190.1 L497.16,189.98 L497.59,189.85 L498.02,189.73 L498.45,189.61 L498.88,189.49 L499.3,189.37 L499.73,189.26 L500.16,189.15 L500.59,189.04 L501.02,188.93 L501.44,188.82 L501.87,188.72 L502.3,188.61 L502.73,188.51 L503.15,188.41 L503.58,188.31 L504.01,188.22 L504.44,188.12 L504.87,188.03 L505.29,187.94 L505.72,187.85 L506.15,187.76 L506.58,187.67 L507,187.59 L507.43,187.5 L507.86,187.42 L508.29,187.34 L508.72,187.26 L509.14,187.18 L509.57,187.11 L510,187.03 L510.43,186.96 L510.85,186.88 L511.28,186.81 L511.71,186.74 L512.14,186.67 L512.57,186.6 L512.99,186.54 L513.42,186.47 L513.85,186.4 L514.28,186.34 L514.71,186.28 L515.13,186.22 L515.56,186.16 L515.99,186.1 L516.42,186.04 L516.84,185.98 L517.27,185.93 L517.7,185.87" fill="none" stroke="#0000ff" stroke-width="1.5"/>
<circle cx="356.9" cy="246.6" r="3.4" fill="#7af5f5" stroke="#1a1a1a" stroke-width="1"/>
<circle cx="373.9" cy="249.5" r="3.4" fill="#7af5f5" stroke="#1a1a1a" stroke-width="1"/>
<circle cx="392.2" cy="246" r="3.4" fill="#7af5f5" stroke="#1a1a1a" stroke-width="1"/>
<circle cx="400.4" cy="246.9" r="3.4" fill="#7af5f5" stroke="#1a1a1a" stroke-width="1"/>
<circle cx="413.9" cy="240.9" r="3.4" fill="#7af5f5" stroke="#1a1a1a" stroke-width="1"/>
<circle cx="431.7" cy="228.2" r="3.4" fill="#7af5f5" stroke="#1a1a1a" stroke-width="1"/>
<circle cx="454.6" cy="215.9" r="3.4" fill="#7af5f5" stroke="#1a1a1a" stroke-width="1"/>
<circle cx="465.3" cy="211.8" r="3.4" fill="#7af5f5" stroke="#1a1a1a" stroke-width="1"/>
<circle cx="481.3" cy="194.9" r="3.4" fill="#7af5f5" stroke="#1a1a1a" stroke-width="1"/>
<circle cx="500.8" cy="182.6" r="3.4" fill="#7af5f5" stroke="#1a1a1a" stroke-width="1"/>
<line x1="343" y1="251.3" x2="347.0" y2="251.3" stroke="#000" stroke-width="1.2"/>
<line x1="513.7" y1="251.3" x2="517.7" y2="251.3" stroke="#000" stroke-width="1.2"/>
<line x1="344.7" y1="234.15" x2="347.0" y2="234.15" stroke="#000" stroke-width="1.2"/>
<line x1="515.4" y1="234.15" x2="517.7" y2="234.15" stroke="#000" stroke-width="1.2"/>
<line x1="343" y1="217" x2="347.0" y2="217" stroke="#000" stroke-width="1.2"/>
<line x1="513.7" y1="217" x2="517.7" y2="217" stroke="#000" stroke-width="1.2"/>
<line x1="344.7" y1="199.85" x2="347.0" y2="199.85" stroke="#000" stroke-width="1.2"/>
<line x1="515.4" y1="199.85" x2="517.7" y2="199.85" stroke="#000" stroke-width="1.2"/>
<line x1="343" y1="182.7" x2="347.0" y2="182.7" stroke="#000" stroke-width="1.2"/>
<line x1="513.7" y1="182.7" x2="517.7" y2="182.7" stroke="#000" stroke-width="1.2"/>
<text x="338" y="255.4" font-family="Liberation Serif" font-size="11.8" text-anchor="end">0.0</text>
<text x="338" y="221.1" font-family="Liberation Serif" font-size="11.8" text-anchor="end">0.5</text>
<text x="338" y="186.8" font-family="Liberation Serif" font-size="11.8" text-anchor="end">1.0</text>
<line x1="403.9" y1="172.6" x2="403.9" y2="176.6" stroke="#000" stroke-width="1.2"/>
<line x1="460.8" y1="172.6" x2="460.8" y2="176.6" stroke="#000" stroke-width="1.2"/>
<text x="352.6" y="187.1" font-family="Liberation Serif" font-size="12.2">50 K</text>
<text x="497" y="250.1" font-family="Liberation Serif" font-size="13">(<tspan font-style="italic">d</tspan>)</text>
<line x1="347.0" y1="0.6" x2="517.7" y2="0.6" stroke="#000" stroke-width="1.3"/>
<line x1="347.0" y1="86.5" x2="517.7" y2="86.5" stroke="#000" stroke-width="1.2"/>
<line x1="347.0" y1="172.6" x2="517.7" y2="172.6" stroke="#000" stroke-width="1.2"/>
<line x1="347.0" y1="258.2" x2="517.7" y2="258.2" stroke="#000" stroke-width="1.2"/>
<line x1="347.0" y1="0" x2="347.0" y2="258.8" stroke="#333" stroke-width="1.5"/>
<line x1="517.7" y1="0" x2="517.7" y2="258.8" stroke="#000" stroke-width="1.3"/>
<line x1="347" y1="258.2" x2="347" y2="262" stroke="#000" stroke-width="1.2"/>
<line x1="403.9" y1="258.2" x2="403.9" y2="262" stroke="#000" stroke-width="1.2"/>
<line x1="460.8" y1="258.2" x2="460.8" y2="262" stroke="#000" stroke-width="1.2"/>
<line x1="517.7" y1="258.2" x2="517.7" y2="262" stroke="#000" stroke-width="1.2"/>
<text x="347" y="275" font-family="Liberation Serif" font-size="11.6" text-anchor="middle">10<tspan font-size="7.6" dy="-5.5">-1</tspan></text>
<text x="403.9" y="275" font-family="Liberation Serif" font-size="11.6" text-anchor="middle">10<tspan font-size="7.6" dy="-5.5">0</tspan></text>
<text x="460.8" y="275" font-family="Liberation Serif" font-size="11.6" text-anchor="middle">10<tspan font-size="7.6" dy="-5.5">1</tspan></text>
<text x="517.7" y="275" font-family="Liberation Serif" font-size="11.6" text-anchor="middle">10<tspan font-size="7.6" dy="-5.5">2</tspan></text>
<text x="429.8" y="298.6" font-family="Liberation Serif" font-size="17" text-anchor="middle">Thickness [μm]</text>
<text transform="translate(311,133) rotate(-90)" font-family="Liberation Serif" font-size="17.4" text-anchor="middle">Normalized LSSE</text>
</svg></body></html>
